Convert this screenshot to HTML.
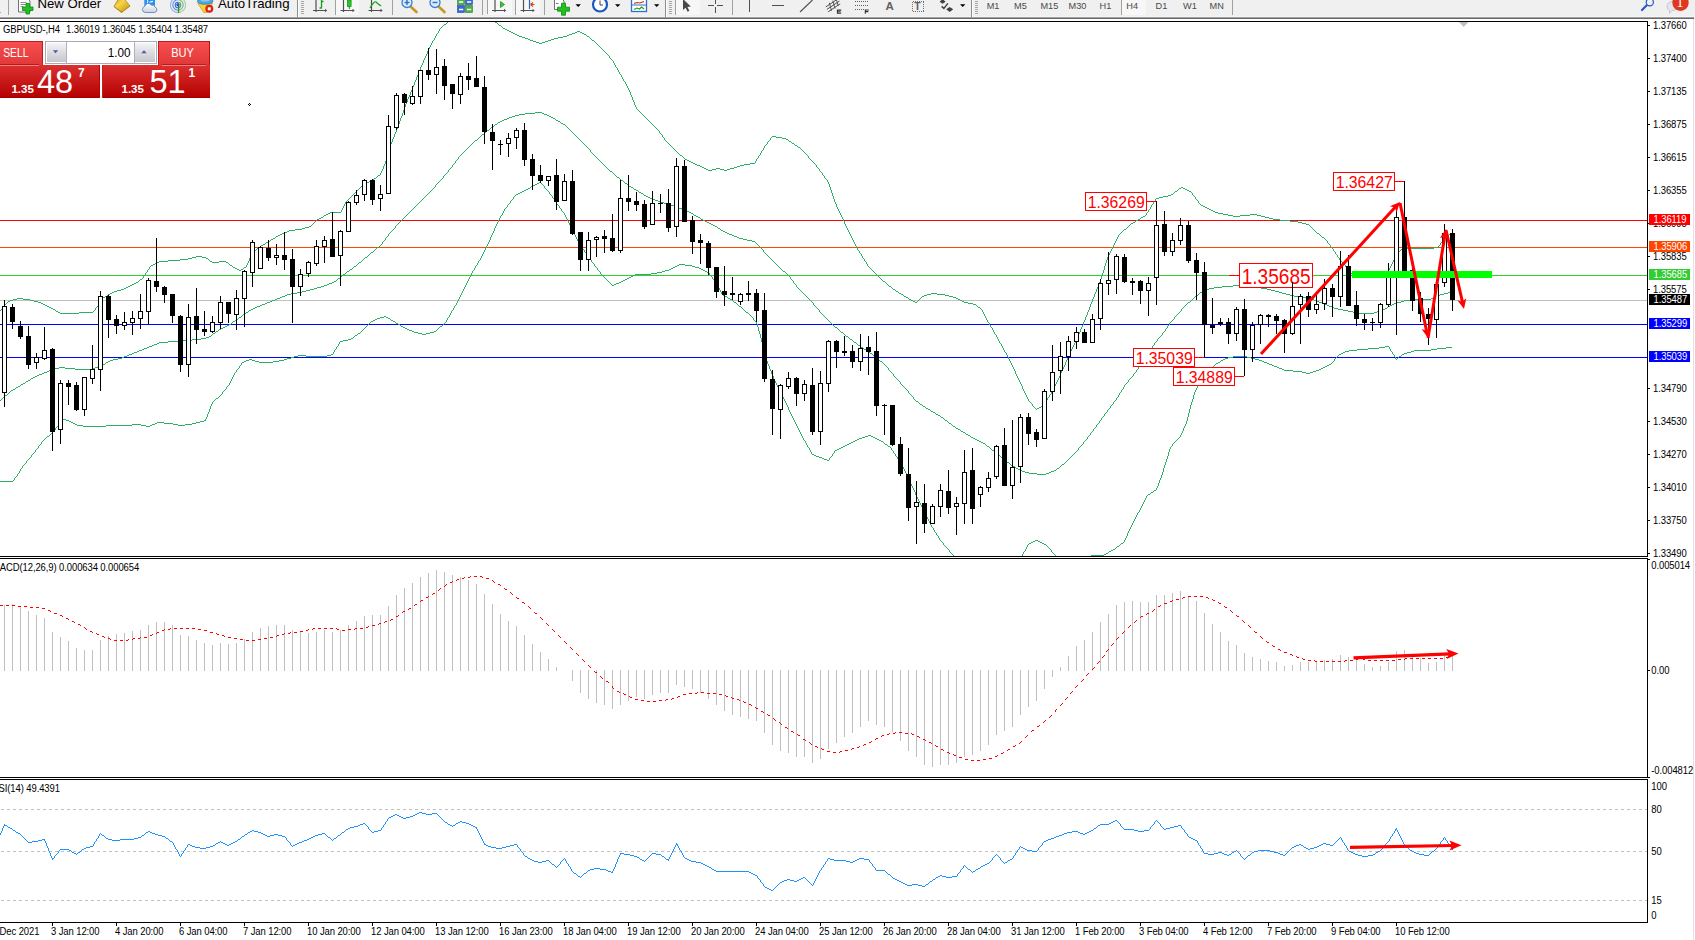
<!DOCTYPE html>
<html><head><meta charset="utf-8"><title>GBPUSD H4</title>
<style>html,body{margin:0;padding:0;background:#fff;}body{width:1695px;height:940px;overflow:hidden;font-family:"Liberation Sans",sans-serif;}svg{display:block}text{font-family:"Liberation Sans",sans-serif}.s{letter-spacing:-0.1px}</style></head><body>
<svg width="1695" height="940" viewBox="0 0 1695 940">
<rect width="1695" height="940" fill="#fff"/>
<g shape-rendering="crispEdges">
<rect x="0" y="220" width="1647" height="1" fill="#ff0000"/>
<rect x="0" y="247" width="1647" height="1" fill="#ff4500"/>
<rect x="0" y="275" width="1647" height="1" fill="#32cd32"/>
<rect x="0" y="300" width="1647" height="1" fill="#c0c0c0"/>
<rect x="0" y="324" width="1647" height="1" fill="#0000ff"/>
<rect x="0" y="357" width="1647" height="1" fill="#0000ff"/>
</g>
<defs><clipPath id="cm"><rect x="0" y="22" width="1647" height="534"/></clipPath></defs>
<path d="M448 21h1v1h-1zM494 21h1v1h-1zM447 22h1v1h-1zM495 22h2v1h-2zM446 23h1v1h-1zM497 23h1v1h-1zM444 24h2v1h-2zM498 24h1v1h-1zM443 25h1v1h-1zM499 25h2v1h-2zM442 26h1v1h-1zM501 26h1v1h-1zM441 27h1v1h-1zM502 27h1v1h-1zM440 28h1v1h-1zM503 28h2v1h-2zM439 29h1v2h-1zM505 29h2v1h-2zM507 30h2v1h-2zM438 31h1v2h-1zM509 31h2v1h-2zM577 31h3v1h-3zM511 32h2v1h-2zM575 32h2v1h-2zM580 32h2v1h-2zM437 33h1v1h-1zM513 33h2v1h-2zM572 33h3v1h-3zM582 33h2v1h-2zM436 34h1v2h-1zM515 34h2v1h-2zM569 34h3v1h-3zM584 34h2v1h-2zM517 35h2v1h-2zM567 35h2v1h-2zM586 35h1v1h-1zM435 36h1v2h-1zM519 36h3v1h-3zM563 36h4v1h-4zM587 36h2v1h-2zM522 37h3v1h-3zM558 37h5v1h-5zM589 37h1v1h-1zM434 38h1v2h-1zM525 38h3v1h-3zM554 38h4v1h-4zM590 38h1v1h-1zM528 39h2v1h-2zM551 39h3v1h-3zM591 39h1v1h-1zM433 40h1v1h-1zM530 40h3v1h-3zM548 40h3v1h-3zM592 40h2v1h-2zM432 41h1v2h-1zM533 41h3v1h-3zM545 41h3v1h-3zM594 41h1v1h-1zM536 42h3v1h-3zM542 42h3v1h-3zM595 42h1v1h-1zM431 43h1v2h-1zM539 43h3v1h-3zM596 43h1v1h-1zM597 44h1v1h-1zM430 45h1v2h-1zM598 45h1v1h-1zM599 46h1v1h-1zM429 47h1v2h-1zM600 47h1v1h-1zM601 48h1v1h-1zM428 49h1v2h-1zM602 49h1v1h-1zM603 50h1v1h-1zM427 51h1v3h-1zM604 51h1v1h-1zM605 52h1v1h-1zM606 53h1v1h-1zM426 54h1v2h-1zM607 54h1v1h-1zM608 55h1v1h-1zM425 56h1v2h-1zM609 56h1v2h-1zM424 58h1v2h-1zM610 58h1v1h-1zM611 59h1v1h-1zM423 60h1v3h-1zM612 60h1v1h-1zM613 61h1v2h-1zM422 63h1v2h-1zM614 63h1v2h-1zM421 65h1v2h-1zM615 65h1v2h-1zM420 67h1v3h-1zM616 67h1v1h-1zM617 68h1v2h-1zM419 70h1v2h-1zM618 70h1v2h-1zM418 72h1v3h-1zM619 72h1v2h-1zM620 74h1v1h-1zM417 75h1v2h-1zM621 75h1v2h-1zM416 77h1v3h-1zM622 77h1v2h-1zM623 79h1v2h-1zM415 80h1v2h-1zM624 81h1v1h-1zM414 82h1v3h-1zM625 82h1v2h-1zM626 84h1v2h-1zM413 85h1v2h-1zM627 86h1v2h-1zM412 87h1v3h-1zM628 88h1v2h-1zM411 90h1v2h-1zM629 90h1v2h-1zM410 92h1v3h-1zM630 92h1v3h-1zM409 95h1v2h-1zM631 95h1v2h-1zM408 97h1v2h-1zM632 97h1v3h-1zM407 99h1v3h-1zM633 100h1v2h-1zM406 102h1v2h-1zM634 102h1v3h-1zM405 104h1v3h-1zM635 105h1v2h-1zM404 107h1v3h-1zM636 107h1v2h-1zM637 109h1v1h-1zM403 110h1v3h-1zM638 110h1v1h-1zM639 111h1v1h-1zM535 112h7v1h-7zM640 112h1v1h-1zM402 113h1v3h-1zM525 113h10v1h-10zM542 113h2v1h-2zM641 113h1v1h-1zM519 114h6v1h-6zM544 114h3v1h-3zM642 114h1v1h-1zM515 115h4v1h-4zM547 115h2v1h-2zM643 115h1v1h-1zM401 116h1v2h-1zM512 116h3v1h-3zM549 116h2v1h-2zM644 116h1v1h-1zM509 117h3v1h-3zM551 117h2v1h-2zM645 117h1v1h-1zM400 118h1v3h-1zM507 118h2v1h-2zM553 118h2v1h-2zM646 118h1v1h-1zM504 119h3v1h-3zM555 119h1v1h-1zM647 119h1v1h-1zM502 120h2v1h-2zM556 120h2v1h-2zM648 120h1v1h-1zM399 121h1v3h-1zM500 121h2v1h-2zM558 121h2v1h-2zM649 121h1v1h-1zM498 122h2v1h-2zM560 122h1v1h-1zM650 122h1v1h-1zM497 123h1v1h-1zM561 123h2v1h-2zM651 123h1v1h-1zM398 124h1v3h-1zM495 124h2v1h-2zM563 124h2v1h-2zM652 124h1v1h-1zM494 125h1v1h-1zM565 125h1v1h-1zM653 125h1v1h-1zM493 126h1v1h-1zM566 126h1v1h-1zM654 126h1v1h-1zM397 127h1v2h-1zM491 127h2v1h-2zM567 127h1v1h-1zM655 127h1v1h-1zM490 128h1v1h-1zM568 128h1v1h-1zM656 128h1v1h-1zM396 129h1v3h-1zM489 129h1v1h-1zM569 129h1v1h-1zM657 129h1v1h-1zM487 130h2v1h-2zM570 130h1v1h-1zM658 130h1v1h-1zM486 131h1v1h-1zM571 131h1v1h-1zM659 131h1v2h-1zM395 132h1v2h-1zM485 132h1v1h-1zM572 132h1v1h-1zM484 133h1v1h-1zM573 133h1v1h-1zM660 133h1v1h-1zM394 134h1v3h-1zM482 134h2v1h-2zM574 134h1v1h-1zM661 134h1v1h-1zM481 135h1v1h-1zM575 135h1v1h-1zM662 135h1v2h-1zM480 136h1v1h-1zM576 136h1v1h-1zM772 136h4v1h-4zM393 137h1v2h-1zM479 137h1v1h-1zM577 137h1v1h-1zM663 137h1v1h-1zM771 137h1v1h-1zM776 137h6v1h-6zM478 138h1v1h-1zM578 138h1v1h-1zM664 138h1v2h-1zM770 138h1v2h-1zM782 138h4v1h-4zM392 139h1v3h-1zM477 139h1v1h-1zM579 139h1v1h-1zM786 139h2v1h-2zM475 140h2v1h-2zM580 140h1v1h-1zM665 140h1v1h-1zM769 140h1v1h-1zM788 140h1v1h-1zM474 141h1v1h-1zM581 141h1v1h-1zM666 141h1v1h-1zM768 141h1v1h-1zM789 141h2v1h-2zM391 142h1v2h-1zM473 142h1v1h-1zM582 142h1v1h-1zM667 142h1v1h-1zM767 142h1v2h-1zM791 142h1v1h-1zM472 143h1v1h-1zM583 143h1v1h-1zM668 143h1v1h-1zM792 143h2v1h-2zM390 144h1v3h-1zM471 144h1v1h-1zM584 144h1v1h-1zM669 144h1v1h-1zM766 144h1v1h-1zM794 144h1v1h-1zM470 145h1v1h-1zM585 145h1v1h-1zM670 145h1v1h-1zM765 145h1v1h-1zM795 145h2v1h-2zM469 146h1v1h-1zM586 146h1v1h-1zM671 146h1v1h-1zM764 146h1v2h-1zM797 146h1v1h-1zM389 147h1v4h-1zM468 147h1v1h-1zM587 147h1v1h-1zM672 147h1v1h-1zM798 147h2v1h-2zM467 148h1v1h-1zM588 148h1v1h-1zM673 148h1v1h-1zM763 148h1v2h-1zM800 148h1v1h-1zM466 149h1v1h-1zM589 149h1v1h-1zM674 149h1v1h-1zM801 149h1v1h-1zM465 150h1v1h-1zM590 150h1v2h-1zM675 150h1v1h-1zM762 150h1v1h-1zM802 150h1v1h-1zM388 151h1v3h-1zM464 151h1v1h-1zM676 151h1v1h-1zM761 151h1v2h-1zM803 151h1v1h-1zM463 152h1v1h-1zM591 152h1v1h-1zM677 152h1v1h-1zM804 152h1v1h-1zM462 153h1v1h-1zM592 153h1v1h-1zM678 153h1v1h-1zM760 153h1v2h-1zM805 153h1v1h-1zM387 154h1v3h-1zM461 154h1v1h-1zM593 154h1v1h-1zM679 154h1v1h-1zM806 154h1v1h-1zM460 155h1v1h-1zM594 155h1v1h-1zM680 155h2v1h-2zM759 155h1v1h-1zM807 155h1v1h-1zM459 156h1v1h-1zM595 156h1v1h-1zM682 156h1v1h-1zM758 156h1v2h-1zM808 156h1v2h-1zM386 157h1v4h-1zM458 157h1v2h-1zM596 157h1v1h-1zM683 157h1v1h-1zM597 158h1v1h-1zM684 158h1v1h-1zM757 158h1v1h-1zM809 158h1v1h-1zM457 159h1v1h-1zM598 159h1v1h-1zM685 159h2v1h-2zM756 159h1v2h-1zM810 159h1v1h-1zM456 160h1v1h-1zM599 160h1v1h-1zM687 160h2v1h-2zM811 160h1v1h-1zM385 161h1v3h-1zM455 161h1v2h-1zM600 161h1v1h-1zM689 161h2v1h-2zM755 161h1v2h-1zM812 161h1v1h-1zM601 162h1v1h-1zM691 162h2v1h-2zM813 162h1v1h-1zM454 163h1v1h-1zM602 163h1v1h-1zM693 163h2v1h-2zM750 163h5v1h-5zM814 163h1v1h-1zM384 164h1v2h-1zM453 164h1v1h-1zM603 164h1v1h-1zM695 164h2v1h-2zM744 164h6v1h-6zM815 164h1v1h-1zM452 165h1v2h-1zM604 165h1v1h-1zM697 165h3v1h-3zM740 165h4v1h-4zM816 165h1v2h-1zM383 166h1v3h-1zM605 166h1v1h-1zM700 166h2v1h-2zM737 166h3v1h-3zM451 167h1v1h-1zM606 167h1v1h-1zM702 167h2v1h-2zM734 167h3v1h-3zM817 167h1v1h-1zM450 168h1v1h-1zM607 168h1v1h-1zM704 168h2v1h-2zM716 168h4v1h-4zM730 168h4v1h-4zM818 168h1v1h-1zM382 169h1v2h-1zM449 169h1v1h-1zM608 169h1v1h-1zM706 169h2v1h-2zM712 169h4v1h-4zM720 169h4v1h-4zM727 169h3v1h-3zM819 169h1v2h-1zM448 170h1v2h-1zM609 170h1v1h-1zM708 170h4v1h-4zM724 170h3v1h-3zM381 171h1v2h-1zM610 171h2v1h-2zM820 171h1v1h-1zM447 172h1v1h-1zM612 172h1v1h-1zM821 172h1v1h-1zM380 173h1v2h-1zM446 173h1v1h-1zM613 173h1v1h-1zM822 173h1v2h-1zM445 174h1v1h-1zM614 174h1v1h-1zM378 175h2v1h-2zM444 175h1v1h-1zM615 175h1v1h-1zM823 175h1v1h-1zM377 176h1v1h-1zM443 176h1v2h-1zM616 176h1v1h-1zM824 176h1v2h-1zM376 177h1v1h-1zM617 177h2v1h-2zM374 178h2v1h-2zM442 178h1v1h-1zM619 178h1v1h-1zM825 178h1v1h-1zM373 179h1v1h-1zM441 179h1v1h-1zM620 179h1v1h-1zM826 179h1v1h-1zM371 180h2v1h-2zM440 180h1v1h-1zM621 180h2v1h-2zM827 180h1v2h-1zM369 181h2v1h-2zM439 181h1v1h-1zM623 181h1v1h-1zM367 182h2v1h-2zM438 182h1v1h-1zM539 182h2v1h-2zM624 182h1v1h-1zM828 182h1v2h-1zM365 183h2v1h-2zM437 183h1v1h-1zM537 183h2v1h-2zM541 183h1v1h-1zM625 183h2v1h-2zM363 184h2v1h-2zM436 184h1v1h-1zM535 184h2v1h-2zM542 184h1v1h-1zM627 184h1v1h-1zM829 184h1v3h-1zM362 185h1v1h-1zM435 185h1v2h-1zM533 185h2v1h-2zM543 185h1v1h-1zM628 185h1v1h-1zM361 186h1v1h-1zM531 186h2v1h-2zM544 186h1v2h-1zM629 186h2v1h-2zM360 187h1v1h-1zM434 187h1v1h-1zM530 187h1v1h-1zM631 187h2v1h-2zM830 187h1v3h-1zM1181 187h2v1h-2zM359 188h1v1h-1zM433 188h1v1h-1zM528 188h2v1h-2zM545 188h1v1h-1zM633 188h1v1h-1zM1179 188h2v1h-2zM1183 188h2v1h-2zM358 189h1v1h-1zM432 189h1v1h-1zM526 189h2v1h-2zM546 189h1v1h-1zM634 189h2v1h-2zM1178 189h1v1h-1zM1185 189h2v1h-2zM357 190h1v1h-1zM431 190h1v1h-1zM524 190h2v1h-2zM547 190h1v1h-1zM636 190h2v1h-2zM831 190h1v3h-1zM1177 190h1v1h-1zM1187 190h2v1h-2zM356 191h1v1h-1zM430 191h1v1h-1zM522 191h2v1h-2zM548 191h1v1h-1zM638 191h1v1h-1zM1175 191h2v1h-2zM1189 191h2v1h-2zM355 192h1v1h-1zM429 192h1v1h-1zM520 192h2v1h-2zM549 192h1v2h-1zM639 192h2v1h-2zM1174 192h1v1h-1zM1191 192h1v1h-1zM354 193h1v1h-1zM428 193h1v1h-1zM518 193h2v1h-2zM641 193h2v1h-2zM832 193h1v3h-1zM1173 193h1v1h-1zM1192 193h1v2h-1zM353 194h1v1h-1zM427 194h1v1h-1zM516 194h2v1h-2zM550 194h1v1h-1zM643 194h1v1h-1zM1171 194h2v1h-2zM352 195h1v1h-1zM426 195h1v1h-1zM515 195h1v1h-1zM551 195h1v1h-1zM644 195h2v1h-2zM1168 195h3v1h-3zM1193 195h1v1h-1zM351 196h1v1h-1zM425 196h1v1h-1zM514 196h1v1h-1zM552 196h1v2h-1zM646 196h2v1h-2zM833 196h1v3h-1zM1163 196h5v1h-5zM1194 196h1v1h-1zM350 197h1v1h-1zM424 197h1v1h-1zM513 197h1v2h-1zM648 197h2v1h-2zM1159 197h4v1h-4zM1195 197h1v2h-1zM349 198h1v1h-1zM423 198h1v1h-1zM553 198h1v1h-1zM650 198h2v1h-2zM1156 198h3v1h-3zM348 199h1v1h-1zM422 199h1v1h-1zM512 199h1v1h-1zM554 199h1v2h-1zM652 199h3v1h-3zM834 199h1v3h-1zM1155 199h1v2h-1zM1196 199h1v1h-1zM347 200h1v1h-1zM421 200h1v1h-1zM511 200h1v1h-1zM655 200h3v1h-3zM1197 200h1v1h-1zM346 201h1v1h-1zM420 201h1v1h-1zM510 201h1v2h-1zM555 201h1v1h-1zM658 201h3v1h-3zM1154 201h1v1h-1zM1198 201h1v2h-1zM345 202h1v2h-1zM419 202h1v1h-1zM556 202h1v2h-1zM661 202h3v1h-3zM835 202h1v2h-1zM1153 202h1v2h-1zM418 203h1v1h-1zM509 203h1v1h-1zM664 203h3v1h-3zM1199 203h1v1h-1zM344 204h1v2h-1zM417 204h1v1h-1zM508 204h1v1h-1zM557 204h1v1h-1zM667 204h4v1h-4zM836 204h1v3h-1zM1152 204h1v1h-1zM1200 204h1v1h-1zM416 205h1v1h-1zM507 205h1v2h-1zM558 205h1v1h-1zM671 205h3v1h-3zM1151 205h1v2h-1zM1201 205h2v1h-2zM343 206h1v2h-1zM415 206h1v1h-1zM559 206h1v2h-1zM674 206h3v1h-3zM1203 206h2v1h-2zM414 207h1v1h-1zM506 207h1v1h-1zM677 207h2v1h-2zM837 207h1v2h-1zM1150 207h1v2h-1zM1205 207h2v1h-2zM342 208h1v2h-1zM413 208h1v1h-1zM505 208h1v1h-1zM560 208h1v1h-1zM679 208h3v1h-3zM1207 208h2v1h-2zM412 209h1v1h-1zM504 209h1v2h-1zM561 209h1v2h-1zM682 209h3v1h-3zM838 209h1v2h-1zM1149 209h1v1h-1zM1209 209h2v1h-2zM341 210h1v2h-1zM411 210h1v1h-1zM685 210h2v1h-2zM1148 210h1v2h-1zM1211 210h2v1h-2zM410 211h1v1h-1zM503 211h1v2h-1zM562 211h1v1h-1zM687 211h2v1h-2zM839 211h1v2h-1zM1213 211h2v1h-2zM330 212h11v1h-11zM409 212h1v1h-1zM563 212h1v1h-1zM689 212h2v1h-2zM1147 212h1v1h-1zM1215 212h3v1h-3zM328 213h2v1h-2zM408 213h1v1h-1zM502 213h1v2h-1zM564 213h1v2h-1zM691 213h2v1h-2zM840 213h1v2h-1zM1146 213h1v2h-1zM1218 213h5v1h-5zM326 214h2v1h-2zM407 214h1v1h-1zM693 214h1v1h-1zM1223 214h5v1h-5zM1250 214h7v1h-7zM324 215h2v1h-2zM406 215h1v1h-1zM501 215h1v1h-1zM565 215h1v2h-1zM694 215h2v1h-2zM841 215h1v2h-1zM1145 215h1v1h-1zM1228 215h5v1h-5zM1240 215h10v1h-10zM1257 215h4v1h-4zM323 216h1v1h-1zM405 216h1v1h-1zM500 216h1v2h-1zM696 216h2v1h-2zM1143 216h2v1h-2zM1233 216h7v1h-7zM1261 216h4v1h-4zM321 217h2v1h-2zM404 217h1v1h-1zM566 217h1v2h-1zM698 217h2v1h-2zM842 217h1v2h-1zM1141 217h2v1h-2zM1265 217h4v1h-4zM319 218h2v1h-2zM403 218h1v1h-1zM499 218h1v2h-1zM700 218h1v1h-1zM1140 218h1v1h-1zM1269 218h4v1h-4zM317 219h2v1h-2zM402 219h1v1h-1zM567 219h1v2h-1zM701 219h2v1h-2zM843 219h1v2h-1zM1138 219h2v1h-2zM1273 219h7v1h-7zM316 220h1v1h-1zM401 220h1v1h-1zM498 220h1v2h-1zM703 220h2v1h-2zM1136 220h2v1h-2zM1280 220h10v1h-10zM315 221h1v1h-1zM400 221h1v1h-1zM568 221h1v2h-1zM705 221h2v1h-2zM844 221h1v3h-1zM1135 221h1v1h-1zM1290 221h8v1h-8zM314 222h1v1h-1zM399 222h1v1h-1zM497 222h1v2h-1zM707 222h2v1h-2zM1133 222h2v1h-2zM1298 222h4v1h-4zM313 223h1v1h-1zM398 223h1v1h-1zM569 223h1v2h-1zM709 223h2v1h-2zM1131 223h2v1h-2zM1302 223h4v1h-4zM312 224h1v1h-1zM397 224h1v1h-1zM496 224h1v2h-1zM711 224h2v1h-2zM845 224h1v2h-1zM1130 224h1v1h-1zM1306 224h3v1h-3zM311 225h1v1h-1zM396 225h1v1h-1zM570 225h1v2h-1zM713 225h2v1h-2zM1129 225h1v1h-1zM1309 225h1v1h-1zM309 226h2v1h-2zM395 226h1v2h-1zM495 226h1v2h-1zM715 226h2v1h-2zM846 226h1v2h-1zM1128 226h1v1h-1zM1310 226h1v1h-1zM305 227h4v1h-4zM571 227h1v2h-1zM717 227h1v1h-1zM1127 227h1v1h-1zM1311 227h1v1h-1zM302 228h3v1h-3zM394 228h1v1h-1zM494 228h1v3h-1zM718 228h2v1h-2zM847 228h1v2h-1zM1126 228h1v1h-1zM1312 228h1v1h-1zM295 229h7v1h-7zM393 229h1v1h-1zM572 229h1v2h-1zM720 229h1v1h-1zM1124 229h2v1h-2zM1313 229h1v1h-1zM289 230h6v1h-6zM392 230h1v1h-1zM721 230h2v1h-2zM848 230h1v2h-1zM1123 230h1v1h-1zM1314 230h1v1h-1zM287 231h2v1h-2zM391 231h1v1h-1zM493 231h1v2h-1zM573 231h1v2h-1zM723 231h2v1h-2zM1122 231h1v1h-1zM1315 231h1v1h-1zM284 232h3v1h-3zM390 232h1v1h-1zM725 232h2v1h-2zM849 232h1v2h-1zM1121 232h1v1h-1zM1316 232h1v1h-1zM1452 232h1v1h-1zM282 233h2v1h-2zM389 233h1v1h-1zM492 233h1v2h-1zM574 233h1v2h-1zM727 233h2v1h-2zM1120 233h1v1h-1zM1317 233h2v1h-2zM1450 233h2v1h-2zM280 234h2v1h-2zM388 234h1v2h-1zM729 234h3v1h-3zM850 234h1v2h-1zM1119 234h1v1h-1zM1319 234h1v1h-1zM1449 234h1v1h-1zM278 235h2v1h-2zM491 235h1v2h-1zM575 235h1v2h-1zM732 235h2v1h-2zM1118 235h1v2h-1zM1320 235h1v1h-1zM1447 235h2v1h-2zM276 236h2v1h-2zM387 236h1v1h-1zM734 236h3v1h-3zM851 236h1v2h-1zM1321 236h1v1h-1zM1446 236h1v1h-1zM275 237h1v1h-1zM386 237h1v1h-1zM490 237h1v3h-1zM576 237h1v2h-1zM737 237h2v1h-2zM1117 237h1v2h-1zM1322 237h2v1h-2zM1445 237h1v2h-1zM273 238h2v1h-2zM385 238h1v2h-1zM739 238h4v1h-4zM852 238h1v2h-1zM1324 238h1v1h-1zM271 239h2v1h-2zM577 239h1v2h-1zM743 239h4v1h-4zM1116 239h1v2h-1zM1325 239h1v1h-1zM1444 239h1v1h-1zM270 240h1v1h-1zM384 240h1v1h-1zM489 240h1v2h-1zM747 240h5v1h-5zM853 240h1v2h-1zM1326 240h1v1h-1zM1443 240h1v1h-1zM268 241h2v1h-2zM383 241h1v1h-1zM578 241h1v2h-1zM752 241h3v1h-3zM1115 241h1v2h-1zM1327 241h1v2h-1zM1442 241h1v1h-1zM266 242h2v1h-2zM382 242h1v2h-1zM488 242h1v2h-1zM755 242h1v1h-1zM854 242h1v2h-1zM1441 242h1v1h-1zM265 243h1v1h-1zM579 243h1v2h-1zM756 243h1v1h-1zM1114 243h1v2h-1zM1328 243h1v1h-1zM1440 243h1v2h-1zM263 244h2v1h-2zM381 244h1v1h-1zM487 244h1v2h-1zM757 244h1v1h-1zM855 244h1v2h-1zM1329 244h1v1h-1zM261 245h2v1h-2zM380 245h1v1h-1zM580 245h1v1h-1zM758 245h1v1h-1zM1113 245h1v2h-1zM1330 245h1v2h-1zM1439 245h1v1h-1zM260 246h1v1h-1zM379 246h1v1h-1zM486 246h1v2h-1zM581 246h1v2h-1zM759 246h1v1h-1zM856 246h1v2h-1zM1438 246h1v1h-1zM258 247h2v1h-2zM377 247h2v1h-2zM760 247h1v1h-1zM1112 247h1v2h-1zM1331 247h1v1h-1zM1434 247h4v1h-4zM257 248h1v1h-1zM376 248h1v1h-1zM485 248h1v2h-1zM582 248h1v1h-1zM761 248h1v1h-1zM857 248h1v2h-1zM1332 248h1v1h-1zM1406 248h28v1h-28zM256 249h1v1h-1zM375 249h1v1h-1zM583 249h1v1h-1zM762 249h1v1h-1zM1111 249h1v2h-1zM1333 249h1v2h-1zM1401 249h5v1h-5zM254 250h2v1h-2zM374 250h1v1h-1zM484 250h1v2h-1zM584 250h1v2h-1zM763 250h1v2h-1zM858 250h1v1h-1zM1400 250h1v1h-1zM253 251h1v1h-1zM373 251h1v1h-1zM859 251h1v2h-1zM1110 251h1v2h-1zM1334 251h1v1h-1zM1399 251h1v1h-1zM252 252h1v2h-1zM371 252h2v1h-2zM483 252h1v2h-1zM585 252h1v1h-1zM764 252h1v1h-1zM1335 252h1v2h-1zM1398 252h1v2h-1zM370 253h1v1h-1zM586 253h1v2h-1zM765 253h1v1h-1zM860 253h1v1h-1zM1109 253h1v2h-1zM251 254h1v2h-1zM369 254h1v1h-1zM482 254h1v2h-1zM766 254h1v1h-1zM861 254h1v2h-1zM1336 254h1v1h-1zM1397 254h1v1h-1zM368 255h1v1h-1zM587 255h1v1h-1zM767 255h1v1h-1zM1108 255h1v2h-1zM1337 255h1v2h-1zM1396 255h1v1h-1zM196 256h6v1h-6zM250 256h1v2h-1zM367 256h1v1h-1zM481 256h1v2h-1zM588 256h1v2h-1zM768 256h1v1h-1zM862 256h1v2h-1zM1395 256h1v2h-1zM192 257h4v1h-4zM202 257h4v1h-4zM365 257h2v1h-2zM769 257h1v1h-1zM1107 257h1v3h-1zM1338 257h1v1h-1zM188 258h4v1h-4zM206 258h2v1h-2zM249 258h1v3h-1zM364 258h1v1h-1zM480 258h1v2h-1zM589 258h1v1h-1zM770 258h1v1h-1zM863 258h1v1h-1zM1339 258h1v2h-1zM1394 258h1v2h-1zM180 259h8v1h-8zM208 259h1v1h-1zM363 259h1v1h-1zM590 259h1v1h-1zM771 259h1v1h-1zM864 259h1v2h-1zM168 260h12v1h-12zM209 260h1v1h-1zM362 260h1v1h-1zM479 260h1v1h-1zM591 260h1v2h-1zM772 260h1v1h-1zM1106 260h1v3h-1zM1340 260h1v1h-1zM1393 260h1v2h-1zM159 261h9v1h-9zM210 261h2v1h-2zM219 261h7v1h-7zM248 261h1v2h-1zM361 261h1v1h-1zM478 261h1v2h-1zM773 261h1v1h-1zM865 261h1v1h-1zM1341 261h1v1h-1zM157 262h2v1h-2zM212 262h7v1h-7zM226 262h2v1h-2zM359 262h2v1h-2zM592 262h1v1h-1zM774 262h1v1h-1zM866 262h1v2h-1zM1342 262h1v1h-1zM1392 262h1v2h-1zM155 263h2v1h-2zM228 263h1v1h-1zM247 263h1v2h-1zM358 263h1v1h-1zM477 263h1v2h-1zM593 263h1v1h-1zM775 263h1v1h-1zM1105 263h1v3h-1zM1343 263h1v1h-1zM153 264h2v1h-2zM229 264h1v1h-1zM357 264h1v1h-1zM594 264h1v2h-1zM679 264h6v1h-6zM776 264h1v1h-1zM867 264h1v2h-1zM1344 264h1v1h-1zM1391 264h1v2h-1zM151 265h2v1h-2zM230 265h2v1h-2zM246 265h1v2h-1zM356 265h1v1h-1zM476 265h1v1h-1zM677 265h2v1h-2zM685 265h7v1h-7zM777 265h1v1h-1zM1345 265h1v2h-1zM150 266h1v1h-1zM232 266h1v1h-1zM354 266h2v1h-2zM475 266h1v2h-1zM595 266h1v1h-1zM675 266h2v1h-2zM692 266h3v1h-3zM778 266h1v1h-1zM868 266h1v1h-1zM1104 266h1v4h-1zM1390 266h1v2h-1zM149 267h1v2h-1zM233 267h2v1h-2zM244 267h2v1h-2zM353 267h1v1h-1zM596 267h1v1h-1zM673 267h2v1h-2zM695 267h4v1h-4zM779 267h1v1h-1zM869 267h1v1h-1zM1346 267h1v2h-1zM235 268h2v1h-2zM243 268h1v1h-1zM352 268h1v1h-1zM474 268h1v2h-1zM597 268h1v2h-1zM671 268h2v1h-2zM699 268h2v1h-2zM780 268h1v1h-1zM870 268h1v1h-1zM1389 268h1v2h-1zM148 269h1v1h-1zM237 269h2v1h-2zM241 269h2v1h-2zM350 269h2v1h-2zM669 269h2v1h-2zM701 269h2v1h-2zM781 269h1v1h-1zM871 269h1v1h-1zM1347 269h1v2h-1zM147 270h1v2h-1zM239 270h2v1h-2zM349 270h1v1h-1zM473 270h1v1h-1zM598 270h1v1h-1zM665 270h4v1h-4zM703 270h2v1h-2zM782 270h1v1h-1zM872 270h1v1h-1zM1103 270h1v3h-1zM1388 270h1v1h-1zM347 271h2v1h-2zM472 271h1v2h-1zM599 271h1v1h-1zM662 271h3v1h-3zM705 271h2v1h-2zM783 271h2v1h-2zM873 271h1v1h-1zM1348 271h1v2h-1zM1386 271h2v1h-2zM146 272h1v1h-1zM346 272h1v1h-1zM600 272h1v2h-1zM657 272h5v1h-5zM707 272h2v1h-2zM785 272h1v1h-1zM874 272h1v1h-1zM1349 272h1v1h-1zM1384 272h2v1h-2zM145 273h1v2h-1zM345 273h1v1h-1zM471 273h1v2h-1zM651 273h6v1h-6zM709 273h1v2h-1zM786 273h1v1h-1zM875 273h1v1h-1zM1102 273h1v3h-1zM1350 273h2v1h-2zM1383 273h1v1h-1zM343 274h2v1h-2zM601 274h1v1h-1zM635 274h16v1h-16zM787 274h1v1h-1zM876 274h1v1h-1zM1352 274h3v1h-3zM1381 274h2v1h-2zM144 275h1v1h-1zM342 275h1v1h-1zM470 275h1v2h-1zM602 275h1v1h-1zM633 275h2v1h-2zM710 275h1v1h-1zM788 275h1v1h-1zM877 275h1v1h-1zM1355 275h26v1h-26zM143 276h1v2h-1zM341 276h1v1h-1zM603 276h1v1h-1zM631 276h2v1h-2zM711 276h1v1h-1zM789 276h1v1h-1zM878 276h1v1h-1zM1101 276h1v3h-1zM340 277h1v1h-1zM469 277h1v2h-1zM604 277h1v1h-1zM629 277h2v1h-2zM712 277h1v2h-1zM790 277h1v2h-1zM879 277h1v1h-1zM142 278h1v1h-1zM338 278h2v1h-2zM605 278h1v1h-1zM627 278h2v1h-2zM880 278h1v1h-1zM140 279h2v1h-2zM337 279h1v1h-1zM468 279h1v2h-1zM606 279h1v1h-1zM625 279h2v1h-2zM713 279h1v1h-1zM791 279h1v1h-1zM881 279h1v1h-1zM1100 279h1v3h-1zM139 280h1v1h-1zM336 280h1v1h-1zM607 280h1v1h-1zM623 280h2v1h-2zM714 280h1v2h-1zM792 280h1v1h-1zM882 280h1v1h-1zM138 281h1v1h-1zM334 281h2v1h-2zM467 281h1v2h-1zM608 281h1v1h-1zM621 281h2v1h-2zM793 281h1v2h-1zM883 281h2v1h-2zM136 282h2v1h-2zM332 282h2v1h-2zM609 282h1v1h-1zM619 282h2v1h-2zM715 282h1v1h-1zM885 282h1v1h-1zM1099 282h1v2h-1zM134 283h2v1h-2zM329 283h3v1h-3zM466 283h1v2h-1zM610 283h1v1h-1zM616 283h3v1h-3zM716 283h1v2h-1zM794 283h1v1h-1zM886 283h1v1h-1zM132 284h2v1h-2zM327 284h2v1h-2zM611 284h1v1h-1zM614 284h2v1h-2zM795 284h1v1h-1zM887 284h1v1h-1zM1098 284h1v3h-1zM130 285h2v1h-2zM324 285h3v1h-3zM465 285h1v2h-1zM612 285h2v1h-2zM717 285h1v2h-1zM796 285h1v2h-1zM888 285h1v1h-1zM1233 285h12v1h-12zM128 286h2v1h-2zM321 286h3v1h-3zM889 286h2v1h-2zM1222 286h11v1h-11zM1245 286h8v1h-8zM126 287h2v1h-2zM317 287h4v1h-4zM464 287h1v2h-1zM718 287h1v1h-1zM797 287h1v1h-1zM891 287h1v1h-1zM1097 287h1v2h-1zM1214 287h8v1h-8zM1253 287h8v1h-8zM124 288h2v1h-2zM314 288h3v1h-3zM719 288h1v2h-1zM798 288h1v1h-1zM892 288h1v1h-1zM1209 288h5v1h-5zM1261 288h6v1h-6zM121 289h3v1h-3zM310 289h4v1h-4zM463 289h1v2h-1zM799 289h1v1h-1zM893 289h2v1h-2zM1096 289h1v3h-1zM1207 289h2v1h-2zM1267 289h4v1h-4zM117 290h4v1h-4zM306 290h4v1h-4zM720 290h1v2h-1zM800 290h1v1h-1zM895 290h1v1h-1zM1204 290h3v1h-3zM1271 290h4v1h-4zM114 291h3v1h-3zM302 291h4v1h-4zM462 291h1v2h-1zM801 291h1v1h-1zM896 291h2v1h-2zM1202 291h2v1h-2zM1275 291h4v1h-4zM112 292h2v1h-2zM297 292h5v1h-5zM721 292h1v2h-1zM802 292h1v1h-1zM898 292h1v1h-1zM1095 292h1v2h-1zM1200 292h2v1h-2zM1279 292h3v1h-3zM1448 292h3v1h-3zM110 293h2v1h-2zM291 293h6v1h-6zM461 293h1v2h-1zM803 293h1v1h-1zM899 293h2v1h-2zM931 293h6v1h-6zM1199 293h1v1h-1zM1282 293h4v1h-4zM1444 293h4v1h-4zM108 294h2v1h-2zM287 294h4v1h-4zM722 294h1v1h-1zM804 294h1v1h-1zM901 294h2v1h-2zM927 294h4v1h-4zM937 294h8v1h-8zM1094 294h1v3h-1zM1198 294h1v1h-1zM1286 294h4v1h-4zM1440 294h4v1h-4zM107 295h1v1h-1zM285 295h2v1h-2zM460 295h1v2h-1zM723 295h2v1h-2zM805 295h1v1h-1zM903 295h1v1h-1zM924 295h3v1h-3zM945 295h4v1h-4zM1196 295h2v1h-2zM1290 295h4v1h-4zM1437 295h3v1h-3zM105 296h2v1h-2zM282 296h3v1h-3zM725 296h2v1h-2zM806 296h1v1h-1zM904 296h2v1h-2zM922 296h2v1h-2zM949 296h4v1h-4zM1195 296h1v1h-1zM1294 296h5v1h-5zM1435 296h2v1h-2zM103 297h2v1h-2zM280 297h2v1h-2zM459 297h1v2h-1zM727 297h1v1h-1zM807 297h1v1h-1zM906 297h2v1h-2zM921 297h1v1h-1zM953 297h3v1h-3zM1093 297h1v2h-1zM1194 297h1v1h-1zM1299 297h8v1h-8zM1433 297h2v1h-2zM17 298h6v1h-6zM102 298h1v1h-1zM277 298h3v1h-3zM728 298h2v1h-2zM808 298h1v1h-1zM908 298h1v1h-1zM920 298h1v1h-1zM956 298h2v1h-2zM1193 298h1v1h-1zM1307 298h5v1h-5zM1431 298h2v1h-2zM13 299h4v1h-4zM23 299h7v1h-7zM101 299h1v2h-1zM275 299h2v1h-2zM458 299h1v2h-1zM730 299h2v1h-2zM809 299h1v1h-1zM909 299h2v1h-2zM919 299h1v1h-1zM958 299h2v1h-2zM1092 299h1v3h-1zM1192 299h1v1h-1zM1312 299h2v1h-2zM1410 299h21v1h-21zM10 300h3v1h-3zM30 300h4v1h-4zM272 300h3v1h-3zM732 300h1v1h-1zM810 300h1v1h-1zM911 300h2v1h-2zM918 300h1v1h-1zM960 300h2v1h-2zM1191 300h1v1h-1zM1314 300h3v1h-3zM1404 300h6v1h-6zM8 301h2v1h-2zM34 301h4v1h-4zM100 301h1v2h-1zM270 301h2v1h-2zM457 301h1v2h-1zM733 301h1v1h-1zM811 301h1v1h-1zM913 301h2v1h-2zM917 301h1v1h-1zM962 301h2v1h-2zM1190 301h1v1h-1zM1317 301h2v1h-2zM1401 301h3v1h-3zM7 302h1v1h-1zM38 302h3v1h-3zM267 302h3v1h-3zM734 302h2v1h-2zM812 302h1v1h-1zM915 302h2v1h-2zM964 302h4v1h-4zM1091 302h1v2h-1zM1188 302h2v1h-2zM1319 302h3v1h-3zM1397 302h4v1h-4zM6 303h1v1h-1zM41 303h2v1h-2zM99 303h1v2h-1zM265 303h2v1h-2zM456 303h1v2h-1zM736 303h1v1h-1zM813 303h1v2h-1zM968 303h5v1h-5zM1187 303h1v1h-1zM1322 303h2v1h-2zM1394 303h3v1h-3zM5 304h1v1h-1zM43 304h2v1h-2zM262 304h3v1h-3zM737 304h1v1h-1zM973 304h3v1h-3zM1090 304h1v3h-1zM1186 304h1v1h-1zM1324 304h3v1h-3zM1392 304h2v1h-2zM4 305h1v2h-1zM45 305h2v1h-2zM98 305h1v1h-1zM260 305h2v1h-2zM455 305h1v1h-1zM738 305h1v1h-1zM814 305h1v1h-1zM976 305h1v1h-1zM1185 305h1v1h-1zM1327 305h2v1h-2zM1390 305h2v1h-2zM47 306h2v1h-2zM97 306h1v1h-1zM257 306h3v1h-3zM454 306h1v2h-1zM739 306h2v1h-2zM815 306h1v1h-1zM977 306h1v1h-1zM1184 306h1v1h-1zM1329 306h3v1h-3zM1388 306h2v1h-2zM3 307h1v1h-1zM49 307h2v1h-2zM96 307h1v1h-1zM255 307h2v1h-2zM741 307h1v1h-1zM816 307h1v1h-1zM978 307h2v1h-2zM1089 307h1v3h-1zM1183 307h1v1h-1zM1332 307h2v1h-2zM1387 307h1v1h-1zM2 308h1v1h-1zM51 308h2v1h-2zM95 308h1v2h-1zM253 308h2v1h-2zM453 308h1v2h-1zM742 308h1v1h-1zM817 308h1v1h-1zM980 308h1v1h-1zM1182 308h1v1h-1zM1334 308h4v1h-4zM1385 308h2v1h-2zM1 309h1v1h-1zM53 309h2v1h-2zM251 309h2v1h-2zM743 309h1v1h-1zM818 309h1v1h-1zM981 309h1v1h-1zM1181 309h1v2h-1zM1338 309h5v1h-5zM1383 309h2v1h-2zM0 310h1v1h-1zM55 310h1v1h-1zM94 310h1v1h-1zM249 310h2v1h-2zM452 310h1v1h-1zM744 310h1v1h-1zM819 310h1v2h-1zM982 310h1v2h-1zM1088 310h1v2h-1zM1343 310h5v1h-5zM1381 310h2v1h-2zM56 311h2v1h-2zM93 311h1v1h-1zM248 311h1v1h-1zM451 311h1v2h-1zM745 311h1v1h-1zM1180 311h1v1h-1zM1348 311h5v1h-5zM1377 311h4v1h-4zM58 312h2v1h-2zM79 312h14v1h-14zM246 312h2v1h-2zM746 312h2v1h-2zM820 312h1v1h-1zM983 312h1v2h-1zM1087 312h1v3h-1zM1179 312h1v1h-1zM1353 312h5v1h-5zM1374 312h3v1h-3zM60 313h19v1h-19zM245 313h1v1h-1zM450 313h1v2h-1zM748 313h1v1h-1zM821 313h1v1h-1zM1178 313h1v1h-1zM1358 313h16v1h-16zM243 314h2v1h-2zM749 314h1v1h-1zM822 314h1v1h-1zM984 314h1v2h-1zM1177 314h1v1h-1zM242 315h1v1h-1zM449 315h1v2h-1zM750 315h1v1h-1zM823 315h1v1h-1zM1086 315h1v2h-1zM1176 315h1v1h-1zM241 316h1v1h-1zM384 316h2v1h-2zM751 316h1v1h-1zM824 316h1v1h-1zM985 316h1v2h-1zM1175 316h1v1h-1zM239 317h2v1h-2zM380 317h4v1h-4zM386 317h2v1h-2zM448 317h1v1h-1zM752 317h1v1h-1zM825 317h1v1h-1zM1085 317h1v3h-1zM1174 317h1v2h-1zM238 318h1v1h-1zM377 318h3v1h-3zM388 318h2v1h-2zM447 318h1v2h-1zM753 318h1v2h-1zM826 318h1v1h-1zM986 318h1v2h-1zM236 319h2v1h-2zM375 319h2v1h-2zM390 319h1v1h-1zM827 319h1v1h-1zM1173 319h1v1h-1zM235 320h1v1h-1zM373 320h2v1h-2zM391 320h2v1h-2zM446 320h1v2h-1zM754 320h1v1h-1zM828 320h1v1h-1zM987 320h1v2h-1zM1084 320h1v2h-1zM1172 320h1v1h-1zM233 321h2v1h-2zM371 321h2v1h-2zM393 321h2v1h-2zM755 321h1v1h-1zM829 321h1v1h-1zM1171 321h1v1h-1zM232 322h1v1h-1zM370 322h1v1h-1zM395 322h1v1h-1zM445 322h1v1h-1zM756 322h1v2h-1zM830 322h1v1h-1zM988 322h1v1h-1zM1083 322h1v3h-1zM1170 322h1v1h-1zM231 323h1v1h-1zM369 323h1v1h-1zM396 323h2v1h-2zM444 323h1v1h-1zM831 323h1v1h-1zM989 323h1v2h-1zM1169 323h1v2h-1zM229 324h2v1h-2zM368 324h1v1h-1zM398 324h2v1h-2zM443 324h1v1h-1zM757 324h1v3h-1zM832 324h1v1h-1zM227 325h2v1h-2zM367 325h1v1h-1zM400 325h1v1h-1zM442 325h1v1h-1zM833 325h1v1h-1zM990 325h1v2h-1zM1082 325h1v2h-1zM1168 325h1v1h-1zM225 326h2v1h-2zM366 326h1v1h-1zM401 326h2v1h-2zM440 326h2v1h-2zM834 326h1v1h-1zM1167 326h1v2h-1zM223 327h2v1h-2zM365 327h1v1h-1zM403 327h2v1h-2zM439 327h1v1h-1zM758 327h1v4h-1zM835 327h2v1h-2zM991 327h1v1h-1zM1081 327h1v2h-1zM221 328h2v1h-2zM364 328h1v1h-1zM405 328h2v1h-2zM438 328h1v1h-1zM837 328h1v1h-1zM992 328h1v2h-1zM1166 328h1v1h-1zM219 329h2v1h-2zM363 329h1v1h-1zM407 329h2v1h-2zM437 329h1v1h-1zM838 329h1v1h-1zM1080 329h1v3h-1zM1165 329h1v2h-1zM218 330h1v1h-1zM362 330h1v1h-1zM409 330h3v1h-3zM436 330h1v1h-1zM839 330h1v1h-1zM993 330h1v2h-1zM216 331h2v1h-2zM361 331h1v1h-1zM412 331h2v1h-2zM434 331h2v1h-2zM759 331h1v3h-1zM840 331h1v1h-1zM1164 331h1v1h-1zM215 332h1v1h-1zM360 332h1v1h-1zM414 332h4v1h-4zM430 332h4v1h-4zM841 332h2v1h-2zM994 332h1v2h-1zM1079 332h1v2h-1zM1163 332h1v1h-1zM213 333h2v1h-2zM358 333h2v1h-2zM418 333h4v1h-4zM426 333h4v1h-4zM843 333h1v1h-1zM1162 333h1v2h-1zM212 334h1v1h-1zM357 334h1v1h-1zM422 334h4v1h-4zM760 334h1v4h-1zM844 334h1v1h-1zM995 334h1v1h-1zM1078 334h1v2h-1zM211 335h1v1h-1zM355 335h2v1h-2zM845 335h1v1h-1zM996 335h1v2h-1zM1161 335h1v1h-1zM209 336h2v1h-2zM354 336h1v1h-1zM846 336h2v1h-2zM1077 336h1v2h-1zM1160 336h1v1h-1zM206 337h3v1h-3zM353 337h1v1h-1zM848 337h1v1h-1zM997 337h1v2h-1zM1159 337h1v1h-1zM201 338h5v1h-5zM351 338h2v1h-2zM761 338h1v4h-1zM849 338h1v1h-1zM1076 338h1v2h-1zM1158 338h1v1h-1zM192 339h9v1h-9zM348 339h3v1h-3zM850 339h2v1h-2zM998 339h1v2h-1zM1157 339h1v2h-1zM180 340h12v1h-12zM343 340h5v1h-5zM852 340h1v1h-1zM1075 340h1v3h-1zM168 341h12v1h-12zM340 341h3v1h-3zM853 341h1v1h-1zM999 341h1v2h-1zM1156 341h1v1h-1zM159 342h9v1h-9zM339 342h1v2h-1zM762 342h1v4h-1zM854 342h2v1h-2zM1155 342h1v1h-1zM157 343h2v1h-2zM856 343h1v1h-1zM1000 343h1v1h-1zM1074 343h1v2h-1zM1154 343h1v2h-1zM154 344h3v1h-3zM338 344h1v2h-1zM857 344h1v1h-1zM1001 344h1v2h-1zM152 345h2v1h-2zM858 345h2v1h-2zM1073 345h1v2h-1zM1153 345h1v1h-1zM149 346h3v1h-3zM337 346h1v1h-1zM763 346h1v5h-1zM860 346h1v1h-1zM1002 346h1v2h-1zM1152 346h1v2h-1zM1385 346h4v1h-4zM147 347h2v1h-2zM336 347h1v2h-1zM861 347h2v1h-2zM1072 347h1v2h-1zM1379 347h6v1h-6zM1389 347h1v2h-1zM1446 347h6v1h-6zM144 348h3v1h-3zM863 348h1v1h-1zM1003 348h1v2h-1zM1151 348h1v1h-1zM1368 348h11v1h-11zM1437 348h9v1h-9zM142 349h2v1h-2zM335 349h1v1h-1zM864 349h2v1h-2zM1071 349h1v2h-1zM1150 349h1v2h-1zM1357 349h11v1h-11zM1390 349h1v2h-1zM1431 349h6v1h-6zM139 350h3v1h-3zM334 350h1v2h-1zM866 350h1v1h-1zM1004 350h1v2h-1zM1349 350h8v1h-8zM1414 350h17v1h-17zM137 351h2v1h-2zM764 351h1v4h-1zM867 351h2v1h-2zM1070 351h1v3h-1zM1149 351h1v1h-1zM1345 351h4v1h-4zM1391 351h1v1h-1zM1411 351h3v1h-3zM134 352h3v1h-3zM333 352h1v2h-1zM869 352h1v1h-1zM1005 352h1v1h-1zM1148 352h1v2h-1zM1343 352h2v1h-2zM1392 352h1v2h-1zM1407 352h4v1h-4zM132 353h2v1h-2zM870 353h2v1h-2zM1006 353h1v2h-1zM1341 353h2v1h-2zM1404 353h3v1h-3zM129 354h3v1h-3zM331 354h2v1h-2zM872 354h1v1h-1zM1069 354h1v2h-1zM1147 354h1v1h-1zM1339 354h2v1h-2zM1393 354h1v1h-1zM1402 354h2v1h-2zM127 355h2v1h-2zM298 355h8v1h-8zM327 355h4v1h-4zM765 355h1v4h-1zM873 355h2v1h-2zM1007 355h1v2h-1zM1146 355h1v2h-1zM1338 355h1v1h-1zM1394 355h1v2h-1zM1401 355h1v1h-1zM124 356h3v1h-3zM294 356h4v1h-4zM306 356h21v1h-21zM875 356h1v1h-1zM1068 356h1v2h-1zM1233 356h14v1h-14zM1337 356h1v1h-1zM1399 356h2v1h-2zM122 357h2v1h-2zM291 357h3v1h-3zM876 357h1v1h-1zM1008 357h1v2h-1zM1145 357h1v1h-1zM1228 357h5v1h-5zM1247 357h4v1h-4zM1336 357h1v1h-1zM1395 357h1v2h-1zM1398 357h1v1h-1zM118 358h4v1h-4zM287 358h4v1h-4zM877 358h1v1h-1zM1067 358h1v2h-1zM1144 358h1v2h-1zM1225 358h3v1h-3zM1251 358h4v1h-4zM1335 358h1v1h-1zM1397 358h1v1h-1zM113 359h5v1h-5zM249 359h3v1h-3zM284 359h3v1h-3zM766 359h1v2h-1zM878 359h1v1h-1zM1009 359h1v2h-1zM1223 359h2v1h-2zM1255 359h4v1h-4zM1334 359h1v2h-1zM1396 359h1v1h-1zM110 360h3v1h-3zM246 360h3v1h-3zM252 360h3v1h-3zM279 360h5v1h-5zM879 360h1v1h-1zM1066 360h1v2h-1zM1143 360h1v1h-1zM1221 360h2v1h-2zM1259 360h3v1h-3zM108 361h2v1h-2zM244 361h2v1h-2zM255 361h4v1h-4zM273 361h6v1h-6zM767 361h1v3h-1zM880 361h2v1h-2zM1010 361h1v2h-1zM1142 361h1v2h-1zM1220 361h1v1h-1zM1262 361h2v1h-2zM1333 361h1v1h-1zM106 362h2v1h-2zM242 362h2v1h-2zM259 362h14v1h-14zM882 362h1v1h-1zM1065 362h1v3h-1zM1218 362h2v1h-2zM1264 362h3v1h-3zM1332 362h1v1h-1zM105 363h1v1h-1zM241 363h1v2h-1zM883 363h1v1h-1zM1011 363h1v2h-1zM1141 363h1v1h-1zM1216 363h2v1h-2zM1267 363h2v1h-2zM1331 363h1v1h-1zM103 364h2v1h-2zM768 364h1v2h-1zM884 364h1v1h-1zM1140 364h1v2h-1zM1215 364h1v1h-1zM1269 364h3v1h-3zM1329 364h2v1h-2zM101 365h2v1h-2zM240 365h1v1h-1zM885 365h1v1h-1zM1012 365h1v2h-1zM1064 365h1v2h-1zM1214 365h1v1h-1zM1272 365h2v1h-2zM1327 365h2v1h-2zM99 366h2v1h-2zM239 366h1v2h-1zM769 366h1v3h-1zM886 366h1v1h-1zM1139 366h1v1h-1zM1213 366h1v1h-1zM1274 366h3v1h-3zM1325 366h2v1h-2zM59 367h6v1h-6zM95 367h4v1h-4zM887 367h1v1h-1zM1013 367h1v2h-1zM1063 367h1v2h-1zM1138 367h1v2h-1zM1212 367h1v1h-1zM1277 367h2v1h-2zM1323 367h2v1h-2zM55 368h4v1h-4zM65 368h10v1h-10zM92 368h3v1h-3zM238 368h1v1h-1zM888 368h1v2h-1zM1211 368h1v1h-1zM1279 368h3v1h-3zM1321 368h2v1h-2zM52 369h3v1h-3zM75 369h17v1h-17zM237 369h1v1h-1zM770 369h1v2h-1zM1014 369h1v2h-1zM1062 369h1v2h-1zM1137 369h1v1h-1zM1210 369h1v2h-1zM1282 369h2v1h-2zM1319 369h2v1h-2zM49 370h3v1h-3zM236 370h1v2h-1zM889 370h1v1h-1zM1136 370h1v2h-1zM1284 370h9v1h-9zM1316 370h3v1h-3zM47 371h2v1h-2zM771 371h1v3h-1zM890 371h1v1h-1zM1015 371h1v3h-1zM1061 371h1v2h-1zM1209 371h1v1h-1zM1293 371h9v1h-9zM1313 371h3v1h-3zM44 372h3v1h-3zM235 372h1v1h-1zM891 372h1v1h-1zM1135 372h1v1h-1zM1208 372h1v1h-1zM1302 372h4v1h-4zM1310 372h3v1h-3zM42 373h2v1h-2zM234 373h1v2h-1zM892 373h1v1h-1zM1060 373h1v3h-1zM1134 373h1v1h-1zM1207 373h1v1h-1zM1306 373h4v1h-4zM39 374h3v1h-3zM772 374h1v2h-1zM893 374h1v2h-1zM1016 374h1v2h-1zM1133 374h1v2h-1zM1206 374h1v1h-1zM37 375h2v1h-2zM233 375h1v2h-1zM1205 375h1v1h-1zM35 376h2v1h-2zM773 376h1v3h-1zM894 376h1v1h-1zM1017 376h1v2h-1zM1059 376h1v2h-1zM1132 376h1v1h-1zM1204 376h1v2h-1zM33 377h2v1h-2zM232 377h1v2h-1zM895 377h1v1h-1zM1131 377h1v1h-1zM31 378h2v1h-2zM896 378h1v1h-1zM1018 378h1v2h-1zM1058 378h1v2h-1zM1130 378h1v1h-1zM1203 378h1v1h-1zM30 379h1v1h-1zM231 379h1v2h-1zM774 379h1v2h-1zM897 379h1v1h-1zM1129 379h1v1h-1zM1202 379h1v2h-1zM28 380h2v1h-2zM898 380h1v1h-1zM1019 380h1v2h-1zM1057 380h1v2h-1zM1128 380h1v2h-1zM26 381h2v1h-2zM230 381h1v2h-1zM775 381h1v2h-1zM899 381h1v1h-1zM1201 381h1v1h-1zM25 382h1v1h-1zM900 382h1v2h-1zM1020 382h1v2h-1zM1056 382h1v2h-1zM1127 382h1v1h-1zM1200 382h1v1h-1zM23 383h2v1h-2zM229 383h1v2h-1zM776 383h1v2h-1zM1126 383h1v1h-1zM1199 383h1v2h-1zM21 384h2v1h-2zM901 384h1v1h-1zM1021 384h1v2h-1zM1055 384h1v2h-1zM1125 384h1v1h-1zM20 385h1v1h-1zM228 385h1v1h-1zM777 385h1v2h-1zM902 385h1v1h-1zM1124 385h1v2h-1zM1198 385h1v1h-1zM18 386h2v1h-2zM227 386h1v1h-1zM903 386h1v1h-1zM1022 386h1v3h-1zM1054 386h1v2h-1zM1197 386h1v2h-1zM16 387h2v1h-2zM226 387h1v2h-1zM778 387h1v2h-1zM904 387h1v1h-1zM1123 387h1v2h-1zM15 388h1v1h-1zM905 388h1v1h-1zM1053 388h1v2h-1zM1196 388h1v2h-1zM13 389h2v1h-2zM225 389h1v1h-1zM779 389h1v2h-1zM906 389h1v1h-1zM1023 389h1v2h-1zM1122 389h1v1h-1zM11 390h2v1h-2zM224 390h1v1h-1zM907 390h1v1h-1zM1052 390h1v2h-1zM1121 390h1v2h-1zM1195 390h1v2h-1zM10 391h1v1h-1zM223 391h1v1h-1zM780 391h1v2h-1zM908 391h1v2h-1zM1024 391h1v2h-1zM9 392h1v1h-1zM222 392h1v2h-1zM1051 392h1v2h-1zM1120 392h1v1h-1zM1194 392h1v3h-1zM8 393h1v1h-1zM781 393h1v2h-1zM909 393h1v1h-1zM1025 393h1v2h-1zM1119 393h1v2h-1zM7 394h1v1h-1zM221 394h1v1h-1zM910 394h1v1h-1zM1050 394h1v1h-1zM5 395h2v1h-2zM220 395h1v1h-1zM782 395h1v2h-1zM911 395h1v1h-1zM1026 395h1v2h-1zM1049 395h1v2h-1zM1118 395h1v2h-1zM1193 395h1v4h-1zM4 396h1v1h-1zM219 396h1v1h-1zM912 396h1v1h-1zM3 397h1v1h-1zM218 397h1v1h-1zM783 397h1v2h-1zM913 397h1v2h-1zM1027 397h1v2h-1zM1048 397h1v1h-1zM1117 397h1v1h-1zM2 398h1v1h-1zM216 398h2v1h-2zM1047 398h1v2h-1zM1116 398h1v2h-1zM1 399h1v1h-1zM215 399h1v1h-1zM784 399h1v2h-1zM914 399h1v1h-1zM1028 399h1v2h-1zM1192 399h1v3h-1zM0 400h1v1h-1zM214 400h1v1h-1zM915 400h1v1h-1zM1046 400h1v1h-1zM1115 400h1v1h-1zM213 401h1v1h-1zM785 401h1v2h-1zM916 401h2v1h-2zM1029 401h1v1h-1zM1045 401h1v2h-1zM1114 401h1v1h-1zM212 402h1v2h-1zM918 402h1v1h-1zM1030 402h1v1h-1zM1113 402h1v2h-1zM1191 402h1v3h-1zM786 403h1v2h-1zM919 403h1v1h-1zM1031 403h1v1h-1zM1044 403h1v1h-1zM211 404h1v2h-1zM920 404h2v1h-2zM1032 404h1v2h-1zM1043 404h1v2h-1zM1112 404h1v1h-1zM787 405h1v2h-1zM922 405h1v1h-1zM1111 405h1v1h-1zM1190 405h1v4h-1zM210 406h1v3h-1zM923 406h2v1h-2zM1033 406h1v1h-1zM1041 406h2v1h-2zM1110 406h1v2h-1zM788 407h1v3h-1zM925 407h1v1h-1zM1034 407h1v1h-1zM1039 407h2v1h-2zM926 408h2v1h-2zM1035 408h1v1h-1zM1037 408h2v1h-2zM1109 408h1v1h-1zM209 409h1v3h-1zM928 409h2v1h-2zM1036 409h1v1h-1zM1108 409h1v1h-1zM1189 409h1v4h-1zM789 410h1v2h-1zM930 410h1v1h-1zM1107 410h1v2h-1zM931 411h2v1h-2zM208 412h1v2h-1zM790 412h1v2h-1zM933 412h2v1h-2zM1106 412h1v1h-1zM935 413h1v1h-1zM1105 413h1v1h-1zM1188 413h1v4h-1zM207 414h1v3h-1zM791 414h1v2h-1zM936 414h2v1h-2zM1104 414h1v2h-1zM938 415h2v1h-2zM792 416h1v2h-1zM940 416h1v1h-1zM1103 416h1v1h-1zM206 417h1v2h-1zM941 417h2v1h-2zM1102 417h1v1h-1zM1187 417h1v4h-1zM793 418h1v2h-1zM943 418h1v1h-1zM1101 418h1v2h-1zM63 419h3v1h-3zM205 419h1v2h-1zM944 419h1v1h-1zM62 420h1v1h-1zM66 420h3v1h-3zM204 420h1v1h-1zM794 420h1v2h-1zM945 420h2v1h-2zM1100 420h1v1h-1zM61 421h1v2h-1zM69 421h2v1h-2zM200 421h4v1h-4zM947 421h1v1h-1zM1099 421h1v2h-1zM1186 421h1v3h-1zM71 422h2v1h-2zM157 422h7v1h-7zM196 422h4v1h-4zM795 422h1v2h-1zM948 422h1v1h-1zM60 423h1v1h-1zM73 423h2v1h-2zM155 423h2v1h-2zM164 423h9v1h-9zM192 423h4v1h-4zM949 423h2v1h-2zM1098 423h1v1h-1zM59 424h1v1h-1zM75 424h2v1h-2zM132 424h9v1h-9zM152 424h3v1h-3zM173 424h5v1h-5zM185 424h7v1h-7zM796 424h1v2h-1zM951 424h1v1h-1zM1097 424h1v1h-1zM1185 424h1v2h-1zM58 425h1v1h-1zM77 425h6v1h-6zM106 425h26v1h-26zM141 425h5v1h-5zM150 425h2v1h-2zM178 425h7v1h-7zM952 425h1v1h-1zM1096 425h1v2h-1zM57 426h1v1h-1zM83 426h23v1h-23zM146 426h4v1h-4zM797 426h1v2h-1zM953 426h2v1h-2zM1184 426h1v2h-1zM56 427h1v1h-1zM955 427h1v1h-1zM1095 427h1v1h-1zM55 428h1v2h-1zM798 428h1v2h-1zM956 428h2v1h-2zM1094 428h1v1h-1zM1183 428h1v3h-1zM958 429h2v1h-2zM1093 429h1v2h-1zM54 430h1v1h-1zM799 430h1v2h-1zM960 430h1v1h-1zM53 431h1v1h-1zM961 431h2v1h-2zM1092 431h1v1h-1zM1182 431h1v2h-1zM52 432h1v1h-1zM800 432h1v2h-1zM963 432h2v1h-2zM1091 432h1v1h-1zM51 433h1v1h-1zM965 433h1v1h-1zM1090 433h1v2h-1zM1181 433h1v2h-1zM50 434h1v1h-1zM801 434h1v2h-1zM966 434h2v1h-2zM49 435h1v1h-1zM868 435h3v1h-3zM968 435h2v1h-2zM1089 435h1v1h-1zM1180 435h1v2h-1zM47 436h2v1h-2zM802 436h1v2h-1zM865 436h3v1h-3zM871 436h2v1h-2zM970 436h1v1h-1zM1088 436h1v1h-1zM46 437h1v1h-1zM862 437h3v1h-3zM873 437h2v1h-2zM971 437h2v1h-2zM1087 437h1v2h-1zM1179 437h1v1h-1zM45 438h1v1h-1zM803 438h1v2h-1zM859 438h3v1h-3zM875 438h2v1h-2zM973 438h2v1h-2zM1178 438h1v1h-1zM44 439h1v1h-1zM857 439h2v1h-2zM877 439h2v1h-2zM975 439h2v1h-2zM1086 439h1v1h-1zM1177 439h1v1h-1zM43 440h1v1h-1zM804 440h1v1h-1zM855 440h2v1h-2zM879 440h2v1h-2zM977 440h2v1h-2zM1085 440h1v1h-1zM1176 440h1v1h-1zM42 441h1v1h-1zM805 441h1v2h-1zM853 441h2v1h-2zM881 441h2v1h-2zM979 441h2v1h-2zM1084 441h1v1h-1zM1175 441h1v1h-1zM41 442h1v2h-1zM851 442h2v1h-2zM883 442h1v1h-1zM981 442h2v1h-2zM1083 442h1v2h-1zM1174 442h1v1h-1zM806 443h1v2h-1zM849 443h2v1h-2zM884 443h1v1h-1zM983 443h2v1h-2zM1173 443h1v1h-1zM40 444h1v1h-1zM847 444h2v1h-2zM885 444h2v1h-2zM985 444h1v1h-1zM1082 444h1v1h-1zM1172 444h1v2h-1zM39 445h1v1h-1zM807 445h1v2h-1zM845 445h2v1h-2zM887 445h1v1h-1zM986 445h1v1h-1zM1081 445h1v1h-1zM38 446h1v2h-1zM843 446h2v1h-2zM888 446h2v1h-2zM987 446h2v1h-2zM1080 446h1v1h-1zM1171 446h1v1h-1zM808 447h1v1h-1zM841 447h2v1h-2zM890 447h1v1h-1zM989 447h1v1h-1zM1079 447h1v1h-1zM1170 447h1v2h-1zM37 448h1v1h-1zM809 448h1v2h-1zM839 448h2v1h-2zM891 448h1v2h-1zM990 448h1v1h-1zM1078 448h1v2h-1zM36 449h1v1h-1zM837 449h2v1h-2zM991 449h1v1h-1zM1169 449h1v3h-1zM35 450h1v2h-1zM810 450h1v2h-1zM835 450h2v1h-2zM892 450h1v1h-1zM992 450h2v1h-2zM1077 450h1v1h-1zM834 451h1v2h-1zM893 451h1v2h-1zM994 451h1v1h-1zM1076 451h1v1h-1zM34 452h1v1h-1zM811 452h1v2h-1zM995 452h1v1h-1zM1075 452h1v1h-1zM1168 452h1v4h-1zM33 453h1v1h-1zM833 453h1v1h-1zM894 453h1v1h-1zM996 453h1v1h-1zM1074 453h1v1h-1zM32 454h1v1h-1zM812 454h2v1h-2zM832 454h1v2h-1zM895 454h1v2h-1zM997 454h2v1h-2zM1073 454h1v1h-1zM31 455h1v2h-1zM814 455h2v1h-2zM999 455h1v1h-1zM1072 455h1v1h-1zM816 456h3v1h-3zM831 456h1v1h-1zM896 456h1v1h-1zM1000 456h1v1h-1zM1071 456h1v1h-1zM1167 456h1v3h-1zM30 457h1v1h-1zM819 457h3v1h-3zM830 457h1v1h-1zM897 457h1v2h-1zM1001 457h1v1h-1zM1070 457h1v1h-1zM29 458h1v1h-1zM822 458h2v1h-2zM829 458h1v2h-1zM1002 458h2v1h-2zM1069 458h1v1h-1zM28 459h1v1h-1zM824 459h3v1h-3zM898 459h1v1h-1zM1004 459h1v1h-1zM1068 459h1v1h-1zM1166 459h1v3h-1zM27 460h1v1h-1zM827 460h2v1h-2zM899 460h1v2h-1zM1005 460h1v1h-1zM1067 460h1v1h-1zM26 461h1v2h-1zM1006 461h1v1h-1zM1066 461h1v1h-1zM900 462h1v1h-1zM1007 462h2v1h-2zM1065 462h1v1h-1zM1165 462h1v3h-1zM25 463h1v1h-1zM901 463h1v2h-1zM1009 463h1v1h-1zM1064 463h1v1h-1zM24 464h1v1h-1zM1010 464h1v1h-1zM1062 464h2v1h-2zM23 465h1v1h-1zM902 465h1v2h-1zM1011 465h2v1h-2zM1061 465h1v1h-1zM1164 465h1v3h-1zM22 466h1v2h-1zM1013 466h2v1h-2zM1060 466h1v1h-1zM903 467h1v2h-1zM1015 467h1v1h-1zM1059 467h1v1h-1zM21 468h1v1h-1zM1016 468h2v1h-2zM1057 468h2v1h-2zM1163 468h1v4h-1zM20 469h1v2h-1zM904 469h1v2h-1zM1018 469h2v1h-2zM1056 469h1v1h-1zM1020 470h2v1h-2zM1054 470h2v1h-2zM19 471h1v2h-1zM905 471h1v2h-1zM1022 471h3v1h-3zM1051 471h3v1h-3zM1025 472h4v1h-4zM1049 472h2v1h-2zM1162 472h1v3h-1zM18 473h1v1h-1zM906 473h1v2h-1zM1029 473h8v1h-8zM1046 473h3v1h-3zM17 474h1v2h-1zM1037 474h9v1h-9zM907 475h1v2h-1zM1161 475h1v3h-1zM16 476h1v1h-1zM15 477h1v1h-1zM908 477h1v2h-1zM14 478h1v2h-1zM1160 478h1v2h-1zM909 479h1v2h-1zM13 480h1v1h-1zM1159 480h1v3h-1zM0 481h13v1h-13zM910 481h1v3h-1zM1158 483h1v3h-1zM911 484h1v2h-1zM912 486h1v2h-1zM1157 486h1v2h-1zM913 488h1v2h-1zM1156 488h1v2h-1zM914 490h1v2h-1zM1154 490h2v1h-2zM1153 491h1v1h-1zM915 492h1v3h-1zM1151 492h2v1h-2zM1150 493h1v1h-1zM1148 494h2v1h-2zM916 495h1v2h-1zM1147 495h1v1h-1zM1146 496h1v2h-1zM917 497h1v2h-1zM1145 498h1v2h-1zM918 499h1v2h-1zM1144 500h1v2h-1zM919 501h1v2h-1zM1143 502h1v2h-1zM920 503h1v2h-1zM1142 504h1v2h-1zM921 505h1v2h-1zM1141 506h1v2h-1zM922 507h1v2h-1zM1140 508h1v2h-1zM923 509h1v2h-1zM1139 510h1v2h-1zM924 511h1v2h-1zM1138 512h1v1h-1zM925 513h1v2h-1zM1137 513h1v2h-1zM926 515h1v2h-1zM1136 515h1v2h-1zM927 517h1v2h-1zM1135 517h1v2h-1zM928 519h1v2h-1zM1134 519h1v2h-1zM929 521h1v2h-1zM1133 521h1v2h-1zM930 523h1v2h-1zM1132 523h1v2h-1zM931 525h1v2h-1zM1131 525h1v2h-1zM932 527h1v1h-1zM1130 527h1v2h-1zM933 528h1v2h-1zM1129 529h1v2h-1zM934 530h1v2h-1zM1128 531h1v2h-1zM935 532h1v1h-1zM936 533h1v2h-1zM1127 533h1v3h-1zM937 535h1v1h-1zM938 536h1v2h-1zM1126 536h1v2h-1zM939 538h1v2h-1zM1125 538h1v2h-1zM940 540h1v1h-1zM1035 540h3v1h-3zM1124 540h1v2h-1zM941 541h1v1h-1zM1033 541h2v1h-2zM1038 541h2v1h-2zM942 542h1v1h-1zM1031 542h2v1h-2zM1040 542h2v1h-2zM1123 542h1v1h-1zM943 543h1v2h-1zM1029 543h2v1h-2zM1042 543h2v1h-2zM1121 543h2v1h-2zM1028 544h1v1h-1zM1044 544h2v1h-2zM1120 544h1v1h-1zM944 545h1v1h-1zM1027 545h1v2h-1zM1046 545h1v1h-1zM1119 545h1v1h-1zM945 546h1v1h-1zM1047 546h1v1h-1zM1117 546h2v1h-2zM946 547h1v1h-1zM1026 547h1v2h-1zM1048 547h1v1h-1zM1116 547h1v1h-1zM947 548h1v1h-1zM1049 548h1v1h-1zM1115 548h1v1h-1zM948 549h1v1h-1zM1025 549h1v2h-1zM1050 549h1v1h-1zM1113 549h2v1h-2zM949 550h1v2h-1zM1051 550h1v2h-1zM1111 550h2v1h-2zM1024 551h1v1h-1zM1109 551h2v1h-2zM950 552h1v1h-1zM1023 552h1v2h-1zM1052 552h1v1h-1zM1108 552h1v1h-1zM951 553h1v1h-1zM1053 553h1v1h-1zM1106 553h2v1h-2zM952 554h1v1h-1zM1022 554h1v2h-1zM1054 554h1v1h-1zM1104 554h2v1h-2zM953 555h1v2h-1zM1055 555h1v1h-1zM1091 555h13v1h-13zM1021 556h1v1h-1zM1056 556h1v1h-1z" fill="#2fae65" shape-rendering="crispEdges" clip-path="url(#cm)"/>
<rect x="1239.5" y="263.5" width="73.0" height="24.0" fill="#fff" stroke="#ff0000" stroke-width="1" shape-rendering="crispEdges"/>
<text x="1276.2" y="284.0" font-size="22" fill="#ff0000" text-anchor="middle" textLength="69.0" lengthAdjust="spacingAndGlyphs">1.35685</text>
<rect x="1229" y="275" width="10" height="1" fill="#ff0000" shape-rendering="crispEdges"/>
<g shape-rendering="crispEdges" clip-path="url(#cm)">
<rect x="4" y="300" width="1" height="107" fill="#000"/>
<rect x="2" y="306" width="5" height="87" fill="#000"/>
<rect x="3" y="307" width="3" height="85" fill="#fff"/>
<rect x="12" y="304" width="1" height="25" fill="#000"/>
<rect x="10" y="307" width="5" height="15" fill="#000"/>
<rect x="20" y="321" width="1" height="18" fill="#000"/>
<rect x="18" y="326" width="5" height="11" fill="#000"/>
<rect x="28" y="326" width="1" height="43" fill="#000"/>
<rect x="26" y="336" width="5" height="29" fill="#000"/>
<rect x="36" y="353" width="1" height="16" fill="#000"/>
<rect x="34" y="357" width="5" height="6" fill="#000"/>
<rect x="35" y="358" width="3" height="4" fill="#fff"/>
<rect x="44" y="327" width="1" height="33" fill="#000"/>
<rect x="42" y="350" width="5" height="9" fill="#000"/>
<rect x="43" y="351" width="3" height="7" fill="#fff"/>
<rect x="52" y="348" width="1" height="103" fill="#000"/>
<rect x="50" y="349" width="5" height="83" fill="#000"/>
<rect x="60" y="380" width="1" height="64" fill="#000"/>
<rect x="58" y="383" width="5" height="47" fill="#000"/>
<rect x="59" y="384" width="3" height="45" fill="#fff"/>
<rect x="68" y="380" width="1" height="25" fill="#000"/>
<rect x="66" y="383" width="5" height="4" fill="#000"/>
<rect x="76" y="382" width="1" height="29" fill="#000"/>
<rect x="74" y="385" width="5" height="25" fill="#000"/>
<rect x="84" y="377" width="1" height="39" fill="#000"/>
<rect x="82" y="377" width="5" height="33" fill="#000"/>
<rect x="83" y="378" width="3" height="31" fill="#fff"/>
<rect x="92" y="345" width="1" height="39" fill="#000"/>
<rect x="90" y="369" width="5" height="10" fill="#000"/>
<rect x="91" y="370" width="3" height="8" fill="#fff"/>
<rect x="100" y="291" width="1" height="100" fill="#000"/>
<rect x="98" y="296" width="5" height="74" fill="#000"/>
<rect x="99" y="297" width="3" height="72" fill="#fff"/>
<rect x="108" y="295" width="1" height="43" fill="#000"/>
<rect x="106" y="296" width="5" height="24" fill="#000"/>
<rect x="116" y="315" width="1" height="19" fill="#000"/>
<rect x="114" y="319" width="5" height="7" fill="#000"/>
<rect x="124" y="312" width="1" height="18" fill="#000"/>
<rect x="122" y="322" width="5" height="4" fill="#000"/>
<rect x="123" y="323" width="3" height="2" fill="#fff"/>
<rect x="132" y="311" width="1" height="24" fill="#000"/>
<rect x="130" y="318" width="5" height="5" fill="#000"/>
<rect x="131" y="319" width="3" height="3" fill="#fff"/>
<rect x="140" y="294" width="1" height="35" fill="#000"/>
<rect x="138" y="311" width="5" height="8" fill="#000"/>
<rect x="139" y="312" width="3" height="6" fill="#fff"/>
<rect x="148" y="278" width="1" height="46" fill="#000"/>
<rect x="146" y="280" width="5" height="32" fill="#000"/>
<rect x="147" y="281" width="3" height="30" fill="#fff"/>
<rect x="156" y="238" width="1" height="54" fill="#000"/>
<rect x="154" y="281" width="5" height="6" fill="#000"/>
<rect x="164" y="286" width="1" height="17" fill="#000"/>
<rect x="162" y="287" width="5" height="8" fill="#000"/>
<rect x="172" y="294" width="1" height="29" fill="#000"/>
<rect x="170" y="294" width="5" height="22" fill="#000"/>
<rect x="180" y="315" width="1" height="57" fill="#000"/>
<rect x="178" y="316" width="5" height="49" fill="#000"/>
<rect x="188" y="304" width="1" height="73" fill="#000"/>
<rect x="186" y="317" width="5" height="48" fill="#000"/>
<rect x="187" y="318" width="3" height="46" fill="#fff"/>
<rect x="196" y="288" width="1" height="56" fill="#000"/>
<rect x="194" y="316" width="5" height="14" fill="#000"/>
<rect x="204" y="311" width="1" height="25" fill="#000"/>
<rect x="202" y="329" width="5" height="3" fill="#000"/>
<rect x="212" y="316" width="1" height="17" fill="#000"/>
<rect x="210" y="322" width="5" height="10" fill="#000"/>
<rect x="211" y="323" width="3" height="8" fill="#fff"/>
<rect x="220" y="296" width="1" height="33" fill="#000"/>
<rect x="218" y="302" width="5" height="21" fill="#000"/>
<rect x="219" y="303" width="3" height="19" fill="#fff"/>
<rect x="228" y="302" width="1" height="21" fill="#000"/>
<rect x="226" y="302" width="5" height="12" fill="#000"/>
<rect x="236" y="290" width="1" height="40" fill="#000"/>
<rect x="234" y="298" width="5" height="17" fill="#000"/>
<rect x="235" y="299" width="3" height="15" fill="#fff"/>
<rect x="244" y="270" width="1" height="57" fill="#000"/>
<rect x="242" y="271" width="5" height="28" fill="#000"/>
<rect x="243" y="272" width="3" height="26" fill="#fff"/>
<rect x="252" y="240" width="1" height="47" fill="#000"/>
<rect x="250" y="242" width="5" height="31" fill="#000"/>
<rect x="251" y="243" width="3" height="29" fill="#fff"/>
<rect x="260" y="246" width="1" height="23" fill="#000"/>
<rect x="258" y="247" width="5" height="22" fill="#000"/>
<rect x="259" y="248" width="3" height="20" fill="#fff"/>
<rect x="268" y="240" width="1" height="21" fill="#000"/>
<rect x="266" y="248" width="5" height="10" fill="#000"/>
<rect x="276" y="244" width="1" height="21" fill="#000"/>
<rect x="274" y="255" width="5" height="3" fill="#000"/>
<rect x="275" y="256" width="3" height="1" fill="#fff"/>
<rect x="284" y="232" width="1" height="38" fill="#000"/>
<rect x="282" y="255" width="5" height="5" fill="#000"/>
<rect x="292" y="249" width="1" height="74" fill="#000"/>
<rect x="290" y="259" width="5" height="28" fill="#000"/>
<rect x="300" y="269" width="1" height="27" fill="#000"/>
<rect x="298" y="274" width="5" height="13" fill="#000"/>
<rect x="299" y="275" width="3" height="11" fill="#fff"/>
<rect x="308" y="261" width="1" height="16" fill="#000"/>
<rect x="306" y="262" width="5" height="12" fill="#000"/>
<rect x="307" y="263" width="3" height="10" fill="#fff"/>
<rect x="316" y="240" width="1" height="26" fill="#000"/>
<rect x="314" y="246" width="5" height="18" fill="#000"/>
<rect x="315" y="247" width="3" height="16" fill="#fff"/>
<rect x="324" y="236" width="1" height="27" fill="#000"/>
<rect x="322" y="240" width="5" height="7" fill="#000"/>
<rect x="323" y="241" width="3" height="5" fill="#fff"/>
<rect x="332" y="212" width="1" height="45" fill="#000"/>
<rect x="330" y="239" width="5" height="18" fill="#000"/>
<rect x="340" y="230" width="1" height="56" fill="#000"/>
<rect x="338" y="231" width="5" height="25" fill="#000"/>
<rect x="339" y="232" width="3" height="23" fill="#fff"/>
<rect x="348" y="201" width="1" height="30" fill="#000"/>
<rect x="346" y="202" width="5" height="30" fill="#000"/>
<rect x="347" y="203" width="3" height="28" fill="#fff"/>
<rect x="356" y="190" width="1" height="15" fill="#000"/>
<rect x="354" y="195" width="5" height="8" fill="#000"/>
<rect x="355" y="196" width="3" height="6" fill="#fff"/>
<rect x="364" y="179" width="1" height="22" fill="#000"/>
<rect x="362" y="180" width="5" height="15" fill="#000"/>
<rect x="363" y="181" width="3" height="13" fill="#fff"/>
<rect x="372" y="179" width="1" height="26" fill="#000"/>
<rect x="370" y="180" width="5" height="20" fill="#000"/>
<rect x="380" y="185" width="1" height="26" fill="#000"/>
<rect x="378" y="194" width="5" height="5" fill="#000"/>
<rect x="379" y="195" width="3" height="3" fill="#fff"/>
<rect x="388" y="115" width="1" height="79" fill="#000"/>
<rect x="386" y="126" width="5" height="68" fill="#000"/>
<rect x="387" y="127" width="3" height="66" fill="#fff"/>
<rect x="396" y="93" width="1" height="37" fill="#000"/>
<rect x="394" y="95" width="5" height="33" fill="#000"/>
<rect x="395" y="96" width="3" height="31" fill="#fff"/>
<rect x="404" y="93" width="1" height="22" fill="#000"/>
<rect x="402" y="94" width="5" height="9" fill="#000"/>
<rect x="412" y="86" width="1" height="19" fill="#000"/>
<rect x="410" y="96" width="5" height="8" fill="#000"/>
<rect x="411" y="97" width="3" height="6" fill="#fff"/>
<rect x="420" y="70" width="1" height="34" fill="#000"/>
<rect x="418" y="70" width="5" height="27" fill="#000"/>
<rect x="419" y="71" width="3" height="25" fill="#fff"/>
<rect x="428" y="48" width="1" height="32" fill="#000"/>
<rect x="426" y="70" width="5" height="5" fill="#000"/>
<rect x="436" y="49" width="1" height="45" fill="#000"/>
<rect x="434" y="67" width="5" height="8" fill="#000"/>
<rect x="435" y="68" width="3" height="6" fill="#fff"/>
<rect x="444" y="59" width="1" height="41" fill="#000"/>
<rect x="442" y="66" width="5" height="20" fill="#000"/>
<rect x="452" y="84" width="1" height="25" fill="#000"/>
<rect x="450" y="84" width="5" height="10" fill="#000"/>
<rect x="460" y="73" width="1" height="31" fill="#000"/>
<rect x="458" y="76" width="5" height="19" fill="#000"/>
<rect x="459" y="77" width="3" height="17" fill="#fff"/>
<rect x="468" y="63" width="1" height="27" fill="#000"/>
<rect x="466" y="76" width="5" height="4" fill="#000"/>
<rect x="476" y="56" width="1" height="31" fill="#000"/>
<rect x="474" y="78" width="5" height="9" fill="#000"/>
<rect x="484" y="76" width="1" height="68" fill="#000"/>
<rect x="482" y="87" width="5" height="45" fill="#000"/>
<rect x="492" y="124" width="1" height="46" fill="#000"/>
<rect x="490" y="132" width="5" height="9" fill="#000"/>
<rect x="500" y="140" width="1" height="15" fill="#000"/>
<rect x="498" y="144" width="5" height="1" fill="#000"/>
<rect x="508" y="133" width="1" height="24" fill="#000"/>
<rect x="506" y="138" width="5" height="6" fill="#000"/>
<rect x="507" y="139" width="3" height="4" fill="#fff"/>
<rect x="516" y="128" width="1" height="21" fill="#000"/>
<rect x="514" y="130" width="5" height="8" fill="#000"/>
<rect x="515" y="131" width="3" height="6" fill="#fff"/>
<rect x="524" y="123" width="1" height="43" fill="#000"/>
<rect x="522" y="130" width="5" height="30" fill="#000"/>
<rect x="532" y="154" width="1" height="36" fill="#000"/>
<rect x="530" y="159" width="5" height="17" fill="#000"/>
<rect x="540" y="165" width="1" height="18" fill="#000"/>
<rect x="538" y="175" width="5" height="6" fill="#000"/>
<rect x="548" y="176" width="1" height="10" fill="#000"/>
<rect x="546" y="176" width="5" height="5" fill="#000"/>
<rect x="547" y="177" width="3" height="3" fill="#fff"/>
<rect x="556" y="159" width="1" height="51" fill="#000"/>
<rect x="554" y="175" width="5" height="27" fill="#000"/>
<rect x="564" y="174" width="1" height="27" fill="#000"/>
<rect x="562" y="181" width="5" height="20" fill="#000"/>
<rect x="563" y="182" width="3" height="18" fill="#fff"/>
<rect x="572" y="170" width="1" height="65" fill="#000"/>
<rect x="570" y="181" width="5" height="53" fill="#000"/>
<rect x="580" y="232" width="1" height="39" fill="#000"/>
<rect x="578" y="232" width="5" height="28" fill="#000"/>
<rect x="588" y="232" width="1" height="39" fill="#000"/>
<rect x="586" y="240" width="5" height="20" fill="#000"/>
<rect x="587" y="241" width="3" height="18" fill="#fff"/>
<rect x="596" y="236" width="1" height="21" fill="#000"/>
<rect x="594" y="237" width="5" height="3" fill="#000"/>
<rect x="595" y="238" width="3" height="1" fill="#fff"/>
<rect x="604" y="230" width="1" height="23" fill="#000"/>
<rect x="602" y="236" width="5" height="3" fill="#000"/>
<rect x="612" y="214" width="1" height="38" fill="#000"/>
<rect x="610" y="238" width="5" height="13" fill="#000"/>
<rect x="620" y="180" width="1" height="73" fill="#000"/>
<rect x="618" y="198" width="5" height="53" fill="#000"/>
<rect x="619" y="199" width="3" height="51" fill="#fff"/>
<rect x="628" y="175" width="1" height="36" fill="#000"/>
<rect x="626" y="198" width="5" height="4" fill="#000"/>
<rect x="636" y="192" width="1" height="19" fill="#000"/>
<rect x="634" y="201" width="5" height="4" fill="#000"/>
<rect x="644" y="200" width="1" height="29" fill="#000"/>
<rect x="642" y="204" width="5" height="23" fill="#000"/>
<rect x="652" y="191" width="1" height="34" fill="#000"/>
<rect x="650" y="203" width="5" height="22" fill="#000"/>
<rect x="651" y="204" width="3" height="20" fill="#fff"/>
<rect x="660" y="194" width="1" height="19" fill="#000"/>
<rect x="658" y="203" width="5" height="1" fill="#000"/>
<rect x="668" y="189" width="1" height="43" fill="#000"/>
<rect x="666" y="203" width="5" height="25" fill="#000"/>
<rect x="676" y="158" width="1" height="79" fill="#000"/>
<rect x="674" y="166" width="5" height="61" fill="#000"/>
<rect x="675" y="167" width="3" height="59" fill="#fff"/>
<rect x="684" y="160" width="1" height="61" fill="#000"/>
<rect x="682" y="166" width="5" height="56" fill="#000"/>
<rect x="692" y="216" width="1" height="38" fill="#000"/>
<rect x="690" y="220" width="5" height="22" fill="#000"/>
<rect x="700" y="234" width="1" height="30" fill="#000"/>
<rect x="698" y="240" width="5" height="3" fill="#000"/>
<rect x="708" y="241" width="1" height="34" fill="#000"/>
<rect x="706" y="243" width="5" height="25" fill="#000"/>
<rect x="716" y="267" width="1" height="31" fill="#000"/>
<rect x="714" y="267" width="5" height="25" fill="#000"/>
<rect x="724" y="266" width="1" height="40" fill="#000"/>
<rect x="722" y="291" width="5" height="4" fill="#000"/>
<rect x="732" y="277" width="1" height="23" fill="#000"/>
<rect x="730" y="293" width="5" height="2" fill="#000"/>
<rect x="740" y="293" width="1" height="12" fill="#000"/>
<rect x="738" y="294" width="5" height="8" fill="#000"/>
<rect x="739" y="295" width="3" height="6" fill="#fff"/>
<rect x="748" y="281" width="1" height="20" fill="#000"/>
<rect x="746" y="293" width="5" height="2" fill="#000"/>
<rect x="756" y="289" width="1" height="33" fill="#000"/>
<rect x="754" y="293" width="5" height="18" fill="#000"/>
<rect x="764" y="293" width="1" height="89" fill="#000"/>
<rect x="762" y="310" width="5" height="69" fill="#000"/>
<rect x="772" y="370" width="1" height="65" fill="#000"/>
<rect x="770" y="379" width="5" height="30" fill="#000"/>
<rect x="780" y="384" width="1" height="55" fill="#000"/>
<rect x="778" y="385" width="5" height="25" fill="#000"/>
<rect x="779" y="386" width="3" height="23" fill="#fff"/>
<rect x="788" y="372" width="1" height="17" fill="#000"/>
<rect x="786" y="378" width="5" height="9" fill="#000"/>
<rect x="787" y="379" width="3" height="7" fill="#fff"/>
<rect x="796" y="377" width="1" height="29" fill="#000"/>
<rect x="794" y="378" width="5" height="16" fill="#000"/>
<rect x="804" y="380" width="1" height="21" fill="#000"/>
<rect x="802" y="384" width="5" height="10" fill="#000"/>
<rect x="803" y="385" width="3" height="8" fill="#fff"/>
<rect x="812" y="368" width="1" height="67" fill="#000"/>
<rect x="810" y="385" width="5" height="47" fill="#000"/>
<rect x="820" y="371" width="1" height="74" fill="#000"/>
<rect x="818" y="383" width="5" height="49" fill="#000"/>
<rect x="819" y="384" width="3" height="47" fill="#fff"/>
<rect x="828" y="340" width="1" height="52" fill="#000"/>
<rect x="826" y="341" width="5" height="43" fill="#000"/>
<rect x="827" y="342" width="3" height="41" fill="#fff"/>
<rect x="836" y="340" width="1" height="28" fill="#000"/>
<rect x="834" y="341" width="5" height="11" fill="#000"/>
<rect x="844" y="336" width="1" height="20" fill="#000"/>
<rect x="842" y="351" width="5" height="2" fill="#000"/>
<rect x="852" y="345" width="1" height="23" fill="#000"/>
<rect x="850" y="351" width="5" height="11" fill="#000"/>
<rect x="860" y="334" width="1" height="37" fill="#000"/>
<rect x="858" y="348" width="5" height="14" fill="#000"/>
<rect x="859" y="349" width="3" height="12" fill="#fff"/>
<rect x="868" y="336" width="1" height="39" fill="#000"/>
<rect x="866" y="347" width="5" height="5" fill="#000"/>
<rect x="876" y="332" width="1" height="84" fill="#000"/>
<rect x="874" y="351" width="5" height="55" fill="#000"/>
<rect x="884" y="404" width="1" height="31" fill="#000"/>
<rect x="882" y="405" width="5" height="1" fill="#000"/>
<rect x="892" y="405" width="1" height="41" fill="#000"/>
<rect x="890" y="405" width="5" height="40" fill="#000"/>
<rect x="900" y="437" width="1" height="39" fill="#000"/>
<rect x="898" y="444" width="5" height="30" fill="#000"/>
<rect x="908" y="448" width="1" height="73" fill="#000"/>
<rect x="906" y="474" width="5" height="34" fill="#000"/>
<rect x="916" y="481" width="1" height="63" fill="#000"/>
<rect x="914" y="502" width="5" height="5" fill="#000"/>
<rect x="915" y="503" width="3" height="3" fill="#fff"/>
<rect x="924" y="484" width="1" height="49" fill="#000"/>
<rect x="922" y="503" width="5" height="21" fill="#000"/>
<rect x="932" y="504" width="1" height="19" fill="#000"/>
<rect x="930" y="506" width="5" height="18" fill="#000"/>
<rect x="931" y="507" width="3" height="16" fill="#fff"/>
<rect x="940" y="484" width="1" height="33" fill="#000"/>
<rect x="938" y="490" width="5" height="17" fill="#000"/>
<rect x="939" y="491" width="3" height="15" fill="#fff"/>
<rect x="948" y="470" width="1" height="44" fill="#000"/>
<rect x="946" y="491" width="5" height="17" fill="#000"/>
<rect x="956" y="497" width="1" height="38" fill="#000"/>
<rect x="954" y="503" width="5" height="4" fill="#000"/>
<rect x="955" y="504" width="3" height="2" fill="#fff"/>
<rect x="964" y="450" width="1" height="74" fill="#000"/>
<rect x="962" y="472" width="5" height="32" fill="#000"/>
<rect x="963" y="473" width="3" height="30" fill="#fff"/>
<rect x="972" y="448" width="1" height="76" fill="#000"/>
<rect x="970" y="470" width="5" height="39" fill="#000"/>
<rect x="980" y="486" width="1" height="21" fill="#000"/>
<rect x="978" y="487" width="5" height="8" fill="#000"/>
<rect x="979" y="488" width="3" height="6" fill="#fff"/>
<rect x="988" y="472" width="1" height="20" fill="#000"/>
<rect x="986" y="478" width="5" height="10" fill="#000"/>
<rect x="987" y="479" width="3" height="8" fill="#fff"/>
<rect x="996" y="445" width="1" height="34" fill="#000"/>
<rect x="994" y="446" width="5" height="31" fill="#000"/>
<rect x="995" y="447" width="3" height="29" fill="#fff"/>
<rect x="1004" y="428" width="1" height="58" fill="#000"/>
<rect x="1002" y="445" width="5" height="41" fill="#000"/>
<rect x="1012" y="420" width="1" height="79" fill="#000"/>
<rect x="1010" y="467" width="5" height="19" fill="#000"/>
<rect x="1011" y="468" width="3" height="17" fill="#fff"/>
<rect x="1020" y="414" width="1" height="69" fill="#000"/>
<rect x="1018" y="417" width="5" height="50" fill="#000"/>
<rect x="1019" y="418" width="3" height="48" fill="#fff"/>
<rect x="1028" y="413" width="1" height="32" fill="#000"/>
<rect x="1026" y="417" width="5" height="17" fill="#000"/>
<rect x="1036" y="429" width="1" height="18" fill="#000"/>
<rect x="1034" y="432" width="5" height="8" fill="#000"/>
<rect x="1044" y="389" width="1" height="50" fill="#000"/>
<rect x="1042" y="391" width="5" height="48" fill="#000"/>
<rect x="1043" y="392" width="3" height="46" fill="#fff"/>
<rect x="1052" y="345" width="1" height="56" fill="#000"/>
<rect x="1050" y="372" width="5" height="20" fill="#000"/>
<rect x="1051" y="373" width="3" height="18" fill="#fff"/>
<rect x="1060" y="342" width="1" height="52" fill="#000"/>
<rect x="1058" y="356" width="5" height="15" fill="#000"/>
<rect x="1059" y="357" width="3" height="13" fill="#fff"/>
<rect x="1068" y="336" width="1" height="35" fill="#000"/>
<rect x="1066" y="341" width="5" height="16" fill="#000"/>
<rect x="1067" y="342" width="3" height="14" fill="#fff"/>
<rect x="1076" y="327" width="1" height="22" fill="#000"/>
<rect x="1074" y="332" width="5" height="10" fill="#000"/>
<rect x="1075" y="333" width="3" height="8" fill="#fff"/>
<rect x="1084" y="329" width="1" height="14" fill="#000"/>
<rect x="1082" y="332" width="5" height="11" fill="#000"/>
<rect x="1092" y="314" width="1" height="29" fill="#000"/>
<rect x="1090" y="319" width="5" height="24" fill="#000"/>
<rect x="1091" y="320" width="3" height="22" fill="#fff"/>
<rect x="1100" y="279" width="1" height="51" fill="#000"/>
<rect x="1098" y="283" width="5" height="36" fill="#000"/>
<rect x="1099" y="284" width="3" height="34" fill="#fff"/>
<rect x="1108" y="252" width="1" height="43" fill="#000"/>
<rect x="1106" y="280" width="5" height="4" fill="#000"/>
<rect x="1107" y="281" width="3" height="2" fill="#fff"/>
<rect x="1116" y="254" width="1" height="40" fill="#000"/>
<rect x="1114" y="256" width="5" height="24" fill="#000"/>
<rect x="1115" y="257" width="3" height="22" fill="#fff"/>
<rect x="1124" y="254" width="1" height="29" fill="#000"/>
<rect x="1122" y="257" width="5" height="25" fill="#000"/>
<rect x="1132" y="278" width="1" height="17" fill="#000"/>
<rect x="1130" y="281" width="5" height="2" fill="#000"/>
<rect x="1140" y="280" width="1" height="24" fill="#000"/>
<rect x="1138" y="281" width="5" height="10" fill="#000"/>
<rect x="1148" y="277" width="1" height="39" fill="#000"/>
<rect x="1146" y="283" width="5" height="8" fill="#000"/>
<rect x="1147" y="284" width="3" height="6" fill="#fff"/>
<rect x="1156" y="201" width="1" height="104" fill="#000"/>
<rect x="1154" y="225" width="5" height="53" fill="#000"/>
<rect x="1155" y="226" width="3" height="51" fill="#fff"/>
<rect x="1164" y="211" width="1" height="45" fill="#000"/>
<rect x="1162" y="224" width="5" height="28" fill="#000"/>
<rect x="1172" y="233" width="1" height="23" fill="#000"/>
<rect x="1170" y="240" width="5" height="12" fill="#000"/>
<rect x="1171" y="241" width="3" height="10" fill="#fff"/>
<rect x="1180" y="218" width="1" height="27" fill="#000"/>
<rect x="1178" y="225" width="5" height="16" fill="#000"/>
<rect x="1179" y="226" width="3" height="14" fill="#fff"/>
<rect x="1188" y="221" width="1" height="42" fill="#000"/>
<rect x="1186" y="225" width="5" height="36" fill="#000"/>
<rect x="1196" y="253" width="1" height="47" fill="#000"/>
<rect x="1194" y="260" width="5" height="13" fill="#000"/>
<rect x="1204" y="262" width="1" height="95" fill="#000"/>
<rect x="1202" y="272" width="5" height="53" fill="#000"/>
<rect x="1212" y="298" width="1" height="36" fill="#000"/>
<rect x="1210" y="325" width="5" height="3" fill="#000"/>
<rect x="1220" y="318" width="1" height="8" fill="#000"/>
<rect x="1218" y="322" width="5" height="2" fill="#000"/>
<rect x="1228" y="318" width="1" height="26" fill="#000"/>
<rect x="1226" y="322" width="5" height="12" fill="#000"/>
<rect x="1236" y="307" width="1" height="34" fill="#000"/>
<rect x="1234" y="309" width="5" height="25" fill="#000"/>
<rect x="1235" y="310" width="3" height="23" fill="#fff"/>
<rect x="1244" y="299" width="1" height="77" fill="#000"/>
<rect x="1242" y="309" width="5" height="41" fill="#000"/>
<rect x="1252" y="322" width="1" height="40" fill="#000"/>
<rect x="1250" y="325" width="5" height="25" fill="#000"/>
<rect x="1251" y="326" width="3" height="23" fill="#fff"/>
<rect x="1260" y="314" width="1" height="30" fill="#000"/>
<rect x="1258" y="315" width="5" height="10" fill="#000"/>
<rect x="1259" y="316" width="3" height="8" fill="#fff"/>
<rect x="1268" y="314" width="1" height="13" fill="#000"/>
<rect x="1266" y="315" width="5" height="2" fill="#000"/>
<rect x="1276" y="314" width="1" height="20" fill="#000"/>
<rect x="1274" y="316" width="5" height="5" fill="#000"/>
<rect x="1284" y="319" width="1" height="34" fill="#000"/>
<rect x="1282" y="320" width="5" height="14" fill="#000"/>
<rect x="1292" y="282" width="1" height="53" fill="#000"/>
<rect x="1290" y="306" width="5" height="28" fill="#000"/>
<rect x="1291" y="307" width="3" height="26" fill="#fff"/>
<rect x="1300" y="294" width="1" height="50" fill="#000"/>
<rect x="1298" y="296" width="5" height="9" fill="#000"/>
<rect x="1299" y="297" width="3" height="7" fill="#fff"/>
<rect x="1308" y="292" width="1" height="25" fill="#000"/>
<rect x="1306" y="296" width="5" height="14" fill="#000"/>
<rect x="1316" y="294" width="1" height="20" fill="#000"/>
<rect x="1314" y="304" width="5" height="6" fill="#000"/>
<rect x="1315" y="305" width="3" height="4" fill="#fff"/>
<rect x="1324" y="279" width="1" height="31" fill="#000"/>
<rect x="1322" y="288" width="5" height="16" fill="#000"/>
<rect x="1323" y="289" width="3" height="14" fill="#fff"/>
<rect x="1332" y="284" width="1" height="33" fill="#000"/>
<rect x="1330" y="288" width="5" height="9" fill="#000"/>
<rect x="1340" y="251" width="1" height="56" fill="#000"/>
<rect x="1338" y="266" width="5" height="31" fill="#000"/>
<rect x="1339" y="267" width="3" height="29" fill="#fff"/>
<rect x="1348" y="255" width="1" height="51" fill="#000"/>
<rect x="1346" y="266" width="5" height="40" fill="#000"/>
<rect x="1356" y="291" width="1" height="35" fill="#000"/>
<rect x="1354" y="305" width="5" height="14" fill="#000"/>
<rect x="1364" y="314" width="1" height="16" fill="#000"/>
<rect x="1362" y="319" width="5" height="4" fill="#000"/>
<rect x="1372" y="318" width="1" height="13" fill="#000"/>
<rect x="1370" y="322" width="5" height="1" fill="#000"/>
<rect x="1380" y="303" width="1" height="25" fill="#000"/>
<rect x="1378" y="304" width="5" height="19" fill="#000"/>
<rect x="1379" y="305" width="3" height="17" fill="#fff"/>
<rect x="1388" y="263" width="1" height="44" fill="#000"/>
<rect x="1386" y="274" width="5" height="31" fill="#000"/>
<rect x="1387" y="275" width="3" height="29" fill="#fff"/>
<rect x="1396" y="205" width="1" height="130" fill="#000"/>
<rect x="1394" y="217" width="5" height="58" fill="#000"/>
<rect x="1395" y="218" width="3" height="56" fill="#fff"/>
<rect x="1404" y="181" width="1" height="94" fill="#000"/>
<rect x="1402" y="217" width="5" height="54" fill="#000"/>
<rect x="1412" y="268" width="1" height="43" fill="#000"/>
<rect x="1410" y="270" width="5" height="31" fill="#000"/>
<rect x="1420" y="292" width="1" height="30" fill="#000"/>
<rect x="1418" y="298" width="5" height="16" fill="#000"/>
<rect x="1428" y="308" width="1" height="37" fill="#000"/>
<rect x="1426" y="314" width="5" height="5" fill="#000"/>
<rect x="1436" y="284" width="1" height="54" fill="#000"/>
<rect x="1434" y="284" width="5" height="36" fill="#000"/>
<rect x="1435" y="285" width="3" height="34" fill="#fff"/>
<rect x="1444" y="224" width="1" height="63" fill="#000"/>
<rect x="1442" y="233" width="5" height="50" fill="#000"/>
<rect x="1443" y="234" width="3" height="48" fill="#fff"/>
<rect x="1452" y="229" width="1" height="82" fill="#000"/>
<rect x="1450" y="233" width="5" height="67" fill="#000"/>
</g>
<rect x="1085.5" y="192.5" width="61.0" height="18.0" fill="#fff" stroke="#ff0000" stroke-width="1" shape-rendering="crispEdges"/>
<text x="1116.2" y="208.0" font-size="16.5" fill="#ff0000" text-anchor="middle" textLength="57.0" lengthAdjust="spacingAndGlyphs">1.36269</text>
<rect x="1147" y="201" width="9" height="1" fill="#ff0000" shape-rendering="crispEdges"/>
<rect x="1333.5" y="172.5" width="61.0" height="18.0" fill="#fff" stroke="#ff0000" stroke-width="1" shape-rendering="crispEdges"/>
<text x="1364.2" y="188.0" font-size="16.5" fill="#ff0000" text-anchor="middle" textLength="57.0" lengthAdjust="spacingAndGlyphs">1.36427</text>
<rect x="1395" y="181" width="9" height="1" fill="#ff0000" shape-rendering="crispEdges"/>
<rect x="1133.5" y="348.5" width="61.0" height="18.0" fill="#fff" stroke="#ff0000" stroke-width="1" shape-rendering="crispEdges"/>
<text x="1164.2" y="364.0" font-size="16.5" fill="#ff0000" text-anchor="middle" textLength="57.0" lengthAdjust="spacingAndGlyphs">1.35039</text>
<rect x="1195" y="357" width="9" height="1" fill="#ff0000" shape-rendering="crispEdges"/>
<rect x="1173.5" y="367.5" width="61.0" height="18.0" fill="#fff" stroke="#ff0000" stroke-width="1" shape-rendering="crispEdges"/>
<text x="1204.2" y="383.0" font-size="16.5" fill="#ff0000" text-anchor="middle" textLength="57.0" lengthAdjust="spacingAndGlyphs">1.34889</text>
<rect x="1235" y="376" width="9" height="1" fill="#ff0000" shape-rendering="crispEdges"/>
<rect x="1352" y="271" width="140" height="7" fill="#00ff00" shape-rendering="crispEdges"/>
<line x1="1261.0" y1="354.0" x2="1395.6" y2="206.8" stroke="#ff0000" stroke-width="3" stroke-linecap="butt"/>
<polygon points="1400.0,202.0 1396.6,212.4 1394.9,207.5 1389.9,206.3" fill="#ff0000"/>
<line x1="1400.0" y1="203.0" x2="1426.7" y2="331.6" stroke="#ff0000" stroke-width="3" stroke-linecap="butt"/>
<polygon points="1428.0,338.0 1421.6,329.1 1426.5,330.7 1430.4,327.3" fill="#ff0000"/>
<line x1="1428.0" y1="338.0" x2="1444.9" y2="235.4" stroke="#ff0000" stroke-width="3" stroke-linecap="butt"/>
<polygon points="1446.0,229.0 1448.8,239.6 1444.8,236.4 1439.9,238.1" fill="#ff0000"/>
<line x1="1446.0" y1="230.0" x2="1462.6" y2="302.7" stroke="#ff0000" stroke-width="3" stroke-linecap="butt"/>
<polygon points="1464.0,309.0 1457.4,300.2 1462.3,301.7 1466.2,298.3" fill="#ff0000"/>
<g shape-rendering="crispEdges">
<rect x="4" y="605" width="1" height="66" fill="#c0c0c0"/>
<rect x="12" y="604" width="1" height="67" fill="#c0c0c0"/>
<rect x="20" y="606" width="1" height="65" fill="#c0c0c0"/>
<rect x="28" y="611" width="1" height="60" fill="#c0c0c0"/>
<rect x="36" y="615" width="1" height="56" fill="#c0c0c0"/>
<rect x="44" y="618" width="1" height="53" fill="#c0c0c0"/>
<rect x="52" y="632" width="1" height="39" fill="#c0c0c0"/>
<rect x="60" y="637" width="1" height="34" fill="#c0c0c0"/>
<rect x="68" y="641" width="1" height="30" fill="#c0c0c0"/>
<rect x="76" y="648" width="1" height="23" fill="#c0c0c0"/>
<rect x="84" y="650" width="1" height="21" fill="#c0c0c0"/>
<rect x="92" y="650" width="1" height="21" fill="#c0c0c0"/>
<rect x="100" y="640" width="1" height="31" fill="#c0c0c0"/>
<rect x="108" y="636" width="1" height="35" fill="#c0c0c0"/>
<rect x="116" y="634" width="1" height="37" fill="#c0c0c0"/>
<rect x="124" y="633" width="1" height="38" fill="#c0c0c0"/>
<rect x="132" y="631" width="1" height="40" fill="#c0c0c0"/>
<rect x="140" y="630" width="1" height="41" fill="#c0c0c0"/>
<rect x="148" y="625" width="1" height="46" fill="#c0c0c0"/>
<rect x="156" y="622" width="1" height="49" fill="#c0c0c0"/>
<rect x="164" y="622" width="1" height="49" fill="#c0c0c0"/>
<rect x="172" y="625" width="1" height="46" fill="#c0c0c0"/>
<rect x="180" y="635" width="1" height="36" fill="#c0c0c0"/>
<rect x="188" y="636" width="1" height="35" fill="#c0c0c0"/>
<rect x="196" y="640" width="1" height="31" fill="#c0c0c0"/>
<rect x="204" y="643" width="1" height="28" fill="#c0c0c0"/>
<rect x="212" y="645" width="1" height="26" fill="#c0c0c0"/>
<rect x="220" y="643" width="1" height="28" fill="#c0c0c0"/>
<rect x="228" y="644" width="1" height="27" fill="#c0c0c0"/>
<rect x="236" y="643" width="1" height="28" fill="#c0c0c0"/>
<rect x="244" y="639" width="1" height="32" fill="#c0c0c0"/>
<rect x="252" y="632" width="1" height="39" fill="#c0c0c0"/>
<rect x="260" y="628" width="1" height="43" fill="#c0c0c0"/>
<rect x="268" y="626" width="1" height="45" fill="#c0c0c0"/>
<rect x="276" y="625" width="1" height="46" fill="#c0c0c0"/>
<rect x="284" y="625" width="1" height="46" fill="#c0c0c0"/>
<rect x="292" y="630" width="1" height="41" fill="#c0c0c0"/>
<rect x="300" y="632" width="1" height="39" fill="#c0c0c0"/>
<rect x="308" y="633" width="1" height="38" fill="#c0c0c0"/>
<rect x="316" y="632" width="1" height="39" fill="#c0c0c0"/>
<rect x="324" y="630" width="1" height="41" fill="#c0c0c0"/>
<rect x="332" y="632" width="1" height="39" fill="#c0c0c0"/>
<rect x="340" y="630" width="1" height="41" fill="#c0c0c0"/>
<rect x="348" y="625" width="1" height="46" fill="#c0c0c0"/>
<rect x="356" y="621" width="1" height="50" fill="#c0c0c0"/>
<rect x="364" y="616" width="1" height="55" fill="#c0c0c0"/>
<rect x="372" y="615" width="1" height="56" fill="#c0c0c0"/>
<rect x="380" y="615" width="1" height="56" fill="#c0c0c0"/>
<rect x="388" y="606" width="1" height="65" fill="#c0c0c0"/>
<rect x="396" y="595" width="1" height="76" fill="#c0c0c0"/>
<rect x="404" y="588" width="1" height="83" fill="#c0c0c0"/>
<rect x="412" y="583" width="1" height="88" fill="#c0c0c0"/>
<rect x="420" y="577" width="1" height="94" fill="#c0c0c0"/>
<rect x="428" y="573" width="1" height="98" fill="#c0c0c0"/>
<rect x="436" y="570" width="1" height="101" fill="#c0c0c0"/>
<rect x="444" y="572" width="1" height="99" fill="#c0c0c0"/>
<rect x="452" y="575" width="1" height="96" fill="#c0c0c0"/>
<rect x="460" y="577" width="1" height="94" fill="#c0c0c0"/>
<rect x="468" y="580" width="1" height="91" fill="#c0c0c0"/>
<rect x="476" y="584" width="1" height="87" fill="#c0c0c0"/>
<rect x="484" y="594" width="1" height="77" fill="#c0c0c0"/>
<rect x="492" y="604" width="1" height="67" fill="#c0c0c0"/>
<rect x="500" y="614" width="1" height="57" fill="#c0c0c0"/>
<rect x="508" y="621" width="1" height="50" fill="#c0c0c0"/>
<rect x="516" y="626" width="1" height="45" fill="#c0c0c0"/>
<rect x="524" y="635" width="1" height="36" fill="#c0c0c0"/>
<rect x="532" y="644" width="1" height="27" fill="#c0c0c0"/>
<rect x="540" y="652" width="1" height="19" fill="#c0c0c0"/>
<rect x="548" y="659" width="1" height="12" fill="#c0c0c0"/>
<rect x="556" y="667" width="1" height="4" fill="#c0c0c0"/>
<rect x="572" y="670" width="1" height="11" fill="#c0c0c0"/>
<rect x="580" y="670" width="1" height="23" fill="#c0c0c0"/>
<rect x="588" y="670" width="1" height="29" fill="#c0c0c0"/>
<rect x="596" y="670" width="1" height="33" fill="#c0c0c0"/>
<rect x="604" y="670" width="1" height="35" fill="#c0c0c0"/>
<rect x="612" y="670" width="1" height="39" fill="#c0c0c0"/>
<rect x="620" y="670" width="1" height="35" fill="#c0c0c0"/>
<rect x="628" y="670" width="1" height="31" fill="#c0c0c0"/>
<rect x="636" y="670" width="1" height="27" fill="#c0c0c0"/>
<rect x="644" y="670" width="1" height="29" fill="#c0c0c0"/>
<rect x="652" y="670" width="1" height="25" fill="#c0c0c0"/>
<rect x="660" y="670" width="1" height="23" fill="#c0c0c0"/>
<rect x="668" y="670" width="1" height="23" fill="#c0c0c0"/>
<rect x="676" y="670" width="1" height="15" fill="#c0c0c0"/>
<rect x="684" y="670" width="1" height="17" fill="#c0c0c0"/>
<rect x="692" y="670" width="1" height="19" fill="#c0c0c0"/>
<rect x="700" y="670" width="1" height="23" fill="#c0c0c0"/>
<rect x="708" y="670" width="1" height="29" fill="#c0c0c0"/>
<rect x="716" y="670" width="1" height="35" fill="#c0c0c0"/>
<rect x="724" y="670" width="1" height="41" fill="#c0c0c0"/>
<rect x="732" y="670" width="1" height="45" fill="#c0c0c0"/>
<rect x="740" y="670" width="1" height="47" fill="#c0c0c0"/>
<rect x="748" y="670" width="1" height="49" fill="#c0c0c0"/>
<rect x="756" y="670" width="1" height="51" fill="#c0c0c0"/>
<rect x="764" y="670" width="1" height="63" fill="#c0c0c0"/>
<rect x="772" y="670" width="1" height="75" fill="#c0c0c0"/>
<rect x="780" y="670" width="1" height="81" fill="#c0c0c0"/>
<rect x="788" y="670" width="1" height="83" fill="#c0c0c0"/>
<rect x="796" y="670" width="1" height="87" fill="#c0c0c0"/>
<rect x="804" y="670" width="1" height="87" fill="#c0c0c0"/>
<rect x="812" y="670" width="1" height="93" fill="#c0c0c0"/>
<rect x="820" y="670" width="1" height="89" fill="#c0c0c0"/>
<rect x="828" y="670" width="1" height="79" fill="#c0c0c0"/>
<rect x="836" y="670" width="1" height="73" fill="#c0c0c0"/>
<rect x="844" y="670" width="1" height="67" fill="#c0c0c0"/>
<rect x="852" y="670" width="1" height="63" fill="#c0c0c0"/>
<rect x="860" y="670" width="1" height="57" fill="#c0c0c0"/>
<rect x="868" y="670" width="1" height="51" fill="#c0c0c0"/>
<rect x="876" y="670" width="1" height="55" fill="#c0c0c0"/>
<rect x="884" y="670" width="1" height="57" fill="#c0c0c0"/>
<rect x="892" y="670" width="1" height="62" fill="#c0c0c0"/>
<rect x="900" y="670" width="1" height="71" fill="#c0c0c0"/>
<rect x="908" y="670" width="1" height="81" fill="#c0c0c0"/>
<rect x="916" y="670" width="1" height="87" fill="#c0c0c0"/>
<rect x="924" y="670" width="1" height="95" fill="#c0c0c0"/>
<rect x="932" y="670" width="1" height="97" fill="#c0c0c0"/>
<rect x="940" y="670" width="1" height="95" fill="#c0c0c0"/>
<rect x="948" y="670" width="1" height="95" fill="#c0c0c0"/>
<rect x="956" y="670" width="1" height="93" fill="#c0c0c0"/>
<rect x="964" y="670" width="1" height="87" fill="#c0c0c0"/>
<rect x="972" y="670" width="1" height="85" fill="#c0c0c0"/>
<rect x="980" y="670" width="1" height="81" fill="#c0c0c0"/>
<rect x="988" y="670" width="1" height="75" fill="#c0c0c0"/>
<rect x="996" y="670" width="1" height="65" fill="#c0c0c0"/>
<rect x="1004" y="670" width="1" height="61" fill="#c0c0c0"/>
<rect x="1012" y="670" width="1" height="57" fill="#c0c0c0"/>
<rect x="1020" y="670" width="1" height="45" fill="#c0c0c0"/>
<rect x="1028" y="670" width="1" height="37" fill="#c0c0c0"/>
<rect x="1036" y="670" width="1" height="31" fill="#c0c0c0"/>
<rect x="1044" y="670" width="1" height="19" fill="#c0c0c0"/>
<rect x="1052" y="670" width="1" height="7" fill="#c0c0c0"/>
<rect x="1060" y="667" width="1" height="4" fill="#c0c0c0"/>
<rect x="1068" y="656" width="1" height="15" fill="#c0c0c0"/>
<rect x="1076" y="646" width="1" height="25" fill="#c0c0c0"/>
<rect x="1084" y="640" width="1" height="31" fill="#c0c0c0"/>
<rect x="1092" y="632" width="1" height="39" fill="#c0c0c0"/>
<rect x="1100" y="622" width="1" height="49" fill="#c0c0c0"/>
<rect x="1108" y="614" width="1" height="57" fill="#c0c0c0"/>
<rect x="1116" y="605" width="1" height="66" fill="#c0c0c0"/>
<rect x="1124" y="602" width="1" height="69" fill="#c0c0c0"/>
<rect x="1132" y="601" width="1" height="70" fill="#c0c0c0"/>
<rect x="1140" y="602" width="1" height="69" fill="#c0c0c0"/>
<rect x="1148" y="602" width="1" height="69" fill="#c0c0c0"/>
<rect x="1156" y="595" width="1" height="76" fill="#c0c0c0"/>
<rect x="1164" y="595" width="1" height="76" fill="#c0c0c0"/>
<rect x="1172" y="593" width="1" height="78" fill="#c0c0c0"/>
<rect x="1180" y="591" width="1" height="80" fill="#c0c0c0"/>
<rect x="1188" y="596" width="1" height="75" fill="#c0c0c0"/>
<rect x="1196" y="601" width="1" height="70" fill="#c0c0c0"/>
<rect x="1204" y="613" width="1" height="58" fill="#c0c0c0"/>
<rect x="1212" y="624" width="1" height="47" fill="#c0c0c0"/>
<rect x="1220" y="632" width="1" height="39" fill="#c0c0c0"/>
<rect x="1228" y="641" width="1" height="30" fill="#c0c0c0"/>
<rect x="1236" y="645" width="1" height="26" fill="#c0c0c0"/>
<rect x="1244" y="653" width="1" height="18" fill="#c0c0c0"/>
<rect x="1252" y="657" width="1" height="14" fill="#c0c0c0"/>
<rect x="1260" y="659" width="1" height="12" fill="#c0c0c0"/>
<rect x="1268" y="661" width="1" height="10" fill="#c0c0c0"/>
<rect x="1276" y="662" width="1" height="9" fill="#c0c0c0"/>
<rect x="1284" y="666" width="1" height="5" fill="#c0c0c0"/>
<rect x="1292" y="665" width="1" height="6" fill="#c0c0c0"/>
<rect x="1300" y="662" width="1" height="9" fill="#c0c0c0"/>
<rect x="1308" y="662" width="1" height="9" fill="#c0c0c0"/>
<rect x="1316" y="662" width="1" height="9" fill="#c0c0c0"/>
<rect x="1324" y="660" width="1" height="11" fill="#c0c0c0"/>
<rect x="1332" y="659" width="1" height="12" fill="#c0c0c0"/>
<rect x="1340" y="655" width="1" height="16" fill="#c0c0c0"/>
<rect x="1348" y="657" width="1" height="14" fill="#c0c0c0"/>
<rect x="1356" y="660" width="1" height="11" fill="#c0c0c0"/>
<rect x="1364" y="664" width="1" height="7" fill="#c0c0c0"/>
<rect x="1372" y="667" width="1" height="4" fill="#c0c0c0"/>
<rect x="1380" y="666" width="1" height="5" fill="#c0c0c0"/>
<rect x="1388" y="662" width="1" height="9" fill="#c0c0c0"/>
<rect x="1396" y="651" width="1" height="20" fill="#c0c0c0"/>
<rect x="1404" y="650" width="1" height="21" fill="#c0c0c0"/>
<rect x="1412" y="656" width="1" height="15" fill="#c0c0c0"/>
<rect x="1420" y="658" width="1" height="13" fill="#c0c0c0"/>
<rect x="1428" y="663" width="1" height="8" fill="#c0c0c0"/>
<rect x="1436" y="662" width="1" height="9" fill="#c0c0c0"/>
<rect x="1444" y="655" width="1" height="16" fill="#c0c0c0"/>
<rect x="1452" y="656" width="1" height="15" fill="#c0c0c0"/>
</g>
<path d="M470 576h1v1h-1zM474 576h3v1h-3zM480 576h2v1h-2zM464 577h1v1h-1zM468 577h2v1h-2zM482 577h1v1h-1zM462 578h2v1h-2zM486 578h3v1h-3zM457 579h2v1h-2zM456 580h1v1h-1zM492 580h1v1h-1zM452 581h1v1h-1zM493 581h1v1h-1zM450 582h2v1h-2zM494 582h1v1h-1zM446 584h1v1h-1zM498 584h2v1h-2zM445 585h1v1h-1zM500 585h1v1h-1zM444 586h1v1h-1zM440 588h1v1h-1zM504 588h1v1h-1zM439 589h1v1h-1zM505 589h2v1h-2zM438 590h1v1h-1zM510 592h1v1h-1zM433 593h2v1h-2zM511 593h1v1h-1zM432 594h1v1h-1zM512 594h1v1h-1zM428 596h1v1h-1zM1188 596h3v1h-3zM1194 596h3v1h-3zM1200 596h3v1h-3zM426 597h2v1h-2zM516 597h1v1h-1zM1183 597h2v1h-2zM1206 597h2v1h-2zM517 598h2v1h-2zM1182 598h1v1h-1zM1208 598h1v1h-1zM1176 599h3v1h-3zM1212 599h1v1h-1zM421 600h2v1h-2zM1172 600h1v1h-1zM1213 600h2v1h-2zM420 601h1v1h-1zM1170 601h2v1h-2zM522 602h2v1h-2zM1218 602h1v1h-1zM524 603h1v1h-1zM1164 603h3v1h-3zM1219 603h2v1h-2zM415 604h2v1h-2zM0 605h3v1h-3zM6 605h3v1h-3zM12 605h3v1h-3zM414 605h1v1h-1zM1160 605h1v1h-1zM18 606h3v1h-3zM24 606h3v1h-3zM528 606h1v1h-1zM1158 606h2v1h-2zM1224 606h1v1h-1zM30 607h3v1h-3zM36 607h3v1h-3zM529 607h1v1h-1zM1225 607h2v1h-2zM42 608h3v1h-3zM409 608h2v1h-2zM530 608h1v1h-1zM408 609h1v1h-1zM1154 609h1v1h-1zM48 610h2v1h-2zM1153 610h1v1h-1zM1230 610h1v1h-1zM50 611h1v1h-1zM403 611h2v1h-2zM1152 611h1v1h-1zM1231 611h1v1h-1zM402 612h1v1h-1zM534 612h1v1h-1zM1232 612h1v1h-1zM54 613h3v1h-3zM535 613h2v1h-2zM1147 613h2v1h-2zM1146 614h1v1h-1zM60 615h2v1h-2zM398 615h1v1h-1zM1236 615h1v1h-1zM62 616h1v1h-1zM396 616h2v1h-2zM1141 616h2v1h-2zM1237 616h2v1h-2zM540 617h1v1h-1zM1140 617h1v1h-1zM66 618h2v1h-2zM541 618h1v1h-1zM68 619h1v1h-1zM391 619h2v1h-2zM542 619h1v1h-1zM390 620h1v1h-1zM1136 620h1v1h-1zM1242 620h1v1h-1zM72 621h2v1h-2zM385 621h2v1h-2zM1135 621h1v1h-1zM1243 621h1v1h-1zM74 622h1v1h-1zM384 622h1v1h-1zM1134 622h1v1h-1zM1244 622h1v1h-1zM379 623h2v1h-2zM546 623h1v1h-1zM78 624h2v1h-2zM378 624h1v1h-1zM547 624h1v1h-1zM80 625h1v1h-1zM372 625h3v1h-3zM548 625h1v1h-1zM1130 625h1v1h-1zM1248 625h1v1h-1zM368 626h1v1h-1zM1129 626h1v1h-1zM1249 626h1v1h-1zM84 627h1v1h-1zM366 627h2v1h-2zM1128 627h1v1h-1zM1250 627h1v1h-1zM85 628h1v1h-1zM170 628h1v1h-1zM174 628h3v1h-3zM180 628h3v1h-3zM186 628h3v1h-3zM192 628h3v1h-3zM313 628h2v1h-2zM318 628h3v1h-3zM324 628h3v1h-3zM330 628h3v1h-3zM336 628h1v1h-1zM355 628h2v1h-2zM360 628h3v1h-3zM86 629h1v1h-1zM164 629h1v1h-1zM168 629h2v1h-2zM198 629h3v1h-3zM308 629h1v1h-1zM312 629h1v1h-1zM337 629h2v1h-2zM348 629h3v1h-3zM354 629h1v1h-1zM552 629h1v1h-1zM162 630h2v1h-2zM204 630h3v1h-3zM306 630h2v1h-2zM342 630h3v1h-3zM553 630h1v1h-1zM90 631h2v1h-2zM300 631h3v1h-3zM554 631h1v1h-1zM1124 631h1v1h-1zM1254 631h1v1h-1zM92 632h1v1h-1zM157 632h2v1h-2zM210 632h3v1h-3zM290 632h1v1h-1zM294 632h3v1h-3zM1123 632h1v1h-1zM1255 632h2v1h-2zM96 633h1v1h-1zM156 633h1v1h-1zM216 633h1v1h-1zM284 633h1v1h-1zM288 633h2v1h-2zM1122 633h1v1h-1zM97 634h2v1h-2zM152 634h1v1h-1zM217 634h2v1h-2zM282 634h2v1h-2zM150 635h2v1h-2zM222 635h2v1h-2zM277 635h2v1h-2zM558 635h1v1h-1zM102 636h2v1h-2zM224 636h1v1h-1zM276 636h1v1h-1zM559 636h1v1h-1zM1260 636h1v1h-1zM104 637h1v1h-1zM140 637h1v1h-1zM144 637h3v1h-3zM228 637h3v1h-3zM270 637h3v1h-3zM560 637h1v1h-1zM1118 637h1v1h-1zM1261 637h1v1h-1zM108 638h2v1h-2zM133 638h2v1h-2zM138 638h2v1h-2zM234 638h3v1h-3zM264 638h3v1h-3zM1117 638h1v1h-1zM1262 638h1v1h-1zM110 639h1v1h-1zM128 639h1v1h-1zM132 639h1v1h-1zM240 639h3v1h-3zM258 639h3v1h-3zM1116 639h1v1h-1zM114 640h3v1h-3zM120 640h3v1h-3zM126 640h2v1h-2zM246 640h3v1h-3zM252 640h3v1h-3zM564 641h1v1h-1zM1266 641h1v1h-1zM565 642h1v1h-1zM1267 642h2v1h-2zM566 643h1v1h-1zM1113 643h1v1h-1zM1112 644h1v1h-1zM1111 645h1v1h-1zM1272 645h1v1h-1zM1273 646h2v1h-2zM570 647h1v1h-1zM571 648h1v1h-1zM572 649h1v1h-1zM1108 649h1v1h-1zM1278 649h2v1h-2zM1107 650h1v1h-1zM1280 650h1v1h-1zM1106 651h1v1h-1zM1284 652h3v1h-3zM576 653h1v1h-1zM577 654h1v1h-1zM1290 654h2v1h-2zM578 655h1v1h-1zM1104 655h1v1h-1zM1292 655h1v1h-1zM1103 656h1v1h-1zM1296 656h1v1h-1zM1448 656h1v1h-1zM1102 657h1v1h-1zM1297 657h2v1h-2zM1446 657h2v1h-2zM1302 658h1v1h-1zM1358 658h1v1h-1zM1362 658h1v1h-1zM1405 658h2v1h-2zM1410 658h3v1h-3zM1416 658h3v1h-3zM1422 658h3v1h-3zM1428 658h3v1h-3zM1434 658h3v1h-3zM1440 658h3v1h-3zM582 659h1v1h-1zM1303 659h2v1h-2zM1356 659h2v1h-2zM1363 659h2v1h-2zM1398 659h3v1h-3zM1404 659h1v1h-1zM583 660h1v1h-1zM1308 660h3v1h-3zM1314 660h1v1h-1zM1345 660h2v1h-2zM1350 660h3v1h-3zM1368 660h3v1h-3zM1374 660h3v1h-3zM1380 660h3v1h-3zM1386 660h3v1h-3zM1392 660h3v1h-3zM584 661h1v1h-1zM1099 661h1v1h-1zM1315 661h2v1h-2zM1320 661h3v1h-3zM1326 661h3v1h-3zM1332 661h3v1h-3zM1338 661h3v1h-3zM1344 661h1v1h-1zM1098 662h1v1h-1zM1097 663h1v1h-1zM588 665h1v1h-1zM589 666h1v1h-1zM590 667h1v1h-1zM1094 667h1v1h-1zM1093 668h1v1h-1zM1092 669h1v1h-1zM594 671h1v1h-1zM595 672h2v1h-2zM1088 673h1v1h-1zM1087 674h1v1h-1zM1086 675h1v1h-1zM600 676h1v1h-1zM601 677h1v1h-1zM602 678h1v1h-1zM1083 679h1v1h-1zM1082 680h1v1h-1zM606 681h2v1h-2zM1081 681h1v1h-1zM608 682h1v1h-1zM1077 685h1v1h-1zM612 686h1v2h-1zM1076 686h1v1h-1zM1075 687h1v1h-1zM613 688h1v1h-1zM617 691h2v1h-2zM1072 691h1v1h-1zM619 692h1v1h-1zM697 692h1v1h-1zM701 692h3v1h-3zM1071 692h1v1h-1zM623 693h1v1h-1zM689 693h3v1h-3zM695 693h2v1h-2zM707 693h3v1h-3zM713 693h3v1h-3zM1070 693h1v1h-1zM624 694h2v1h-2zM683 694h3v1h-3zM719 694h3v1h-3zM725 695h1v1h-1zM629 696h1v1h-1zM678 696h2v1h-2zM726 696h2v1h-2zM630 697h2v1h-2zM677 697h1v1h-1zM731 697h1v1h-1zM1067 697h1v1h-1zM672 698h2v1h-2zM732 698h2v1h-2zM1066 698h1v1h-1zM635 699h3v1h-3zM666 699h2v1h-2zM671 699h1v1h-1zM737 699h2v1h-2zM1065 699h1v1h-1zM641 700h3v1h-3zM659 700h3v1h-3zM665 700h1v1h-1zM739 700h1v1h-1zM647 701h3v1h-3zM653 701h3v1h-3zM743 701h1v1h-1zM744 702h2v1h-2zM1062 703h1v1h-1zM749 704h2v1h-2zM1061 704h1v1h-1zM751 705h1v1h-1zM1060 705h1v1h-1zM755 707h1v1h-1zM756 708h2v1h-2zM1056 709h1v1h-1zM1055 710h1v2h-1zM761 711h2v1h-2zM763 712h1v1h-1zM767 714h1v1h-1zM768 715h2v1h-2zM1051 715h1v1h-1zM1050 716h1v1h-1zM1049 717h1v1h-1zM773 718h1v1h-1zM774 719h1v1h-1zM775 720h1v1h-1zM1045 720h1v1h-1zM1044 721h1v1h-1zM779 722h1v1h-1zM1043 722h1v1h-1zM780 723h1v1h-1zM781 724h1v1h-1zM1039 725h1v1h-1zM1037 726h2v1h-2zM785 727h2v1h-2zM787 728h1v1h-1zM1032 730h2v1h-2zM791 731h2v1h-2zM1031 731h1v1h-1zM793 732h1v1h-1zM895 732h1v1h-1zM899 732h3v1h-3zM889 733h1v1h-1zM893 733h2v1h-2zM905 733h3v1h-3zM911 733h1v1h-1zM797 734h1v1h-1zM887 734h2v1h-2zM912 734h2v1h-2zM798 735h2v1h-2zM882 735h2v1h-2zM1027 735h1v1h-1zM881 736h1v1h-1zM917 736h2v1h-2zM1026 736h1v1h-1zM919 737h1v1h-1zM1025 737h1v1h-1zM876 738h2v1h-2zM803 739h2v1h-2zM875 739h1v1h-1zM923 739h2v1h-2zM805 740h1v1h-1zM925 740h1v1h-1zM871 741h1v1h-1zM1021 741h1v1h-1zM809 742h1v1h-1zM869 742h2v1h-2zM929 742h2v1h-2zM1020 742h1v1h-1zM810 743h1v1h-1zM931 743h1v1h-1zM1019 743h1v1h-1zM811 744h1v1h-1zM864 744h2v1h-2zM863 745h1v1h-1zM935 745h1v1h-1zM1015 745h1v1h-1zM815 746h2v1h-2zM859 746h1v1h-1zM936 746h2v1h-2zM1013 746h2v1h-2zM817 747h1v1h-1zM857 747h2v1h-2zM821 748h1v1h-1zM852 748h2v1h-2zM822 749h2v1h-2zM851 749h1v1h-1zM941 749h2v1h-2zM1008 749h2v1h-2zM845 750h3v1h-3zM943 750h1v1h-1zM1007 750h1v1h-1zM827 751h3v1h-3zM840 751h2v1h-2zM833 752h3v1h-3zM839 752h1v1h-1zM947 752h2v1h-2zM1003 752h1v1h-1zM949 753h1v1h-1zM1001 753h2v1h-2zM953 754h1v1h-1zM954 755h2v1h-2zM997 755h1v1h-1zM995 756h2v1h-2zM959 757h3v1h-3zM989 758h3v1h-3zM965 759h3v1h-3zM983 759h3v1h-3zM971 760h3v1h-3zM977 760h3v1h-3z" fill="#ff0000" shape-rendering="crispEdges"/>
<line x1="1353.5" y1="657.8" x2="1450.0" y2="653.8" stroke="#ff0000" stroke-width="3.2" stroke-linecap="butt"/>
<polygon points="1458.5,653.4 1446.7,658.9 1449.0,653.8 1446.3,648.9" fill="#ff0000"/>
<g shape-rendering="crispEdges">
<line x1="1" y1="809.5" x2="1647" y2="809.5" stroke="#c0c0c0" stroke-width="1" stroke-dasharray="3,3"/>
<line x1="1" y1="851.5" x2="1647" y2="851.5" stroke="#c0c0c0" stroke-width="1" stroke-dasharray="3,3"/>
<line x1="1" y1="900.5" x2="1647" y2="900.5" stroke="#c0c0c0" stroke-width="1" stroke-dasharray="3,3"/>
</g>
<path d="M419 812h3v1h-3zM417 813h2v1h-2zM422 813h4v1h-4zM432 813h5v1h-5zM395 814h2v1h-2zM415 814h2v1h-2zM426 814h6v1h-6zM437 814h1v1h-1zM393 815h2v1h-2zM397 815h2v1h-2zM413 815h2v1h-2zM438 815h1v1h-1zM391 816h2v1h-2zM399 816h2v1h-2zM410 816h3v1h-3zM439 816h1v1h-1zM389 817h2v1h-2zM401 817h2v1h-2zM406 817h4v1h-4zM440 817h1v1h-1zM388 818h1v1h-1zM403 818h3v1h-3zM441 818h1v1h-1zM387 819h1v2h-1zM442 819h1v1h-1zM443 820h1v1h-1zM1115 820h2v1h-2zM1156 820h1v1h-1zM386 821h1v1h-1zM444 821h1v1h-1zM460 821h2v1h-2zM1113 821h2v1h-2zM1117 821h1v1h-1zM1155 821h1v1h-1zM1157 821h1v1h-1zM385 822h1v2h-1zM445 822h2v1h-2zM458 822h2v1h-2zM462 822h4v1h-4zM1111 822h2v1h-2zM1118 822h1v1h-1zM1154 822h1v2h-1zM1158 822h1v1h-1zM363 823h2v1h-2zM447 823h1v1h-1zM456 823h2v1h-2zM466 823h3v1h-3zM1109 823h2v1h-2zM1119 823h1v1h-1zM1159 823h1v1h-1zM4 824h1v2h-1zM360 824h3v1h-3zM365 824h1v1h-1zM384 824h1v1h-1zM448 824h2v1h-2zM455 824h1v1h-1zM469 824h2v1h-2zM1100 824h9v1h-9zM1120 824h1v2h-1zM1153 824h1v1h-1zM1160 824h1v2h-1zM5 825h2v1h-2zM358 825h2v1h-2zM366 825h1v1h-1zM383 825h1v2h-1zM450 825h2v1h-2zM453 825h2v1h-2zM471 825h2v1h-2zM1098 825h2v1h-2zM1152 825h1v1h-1zM1178 825h3v1h-3zM3 826h1v2h-1zM7 826h1v1h-1zM354 826h4v1h-4zM367 826h1v1h-1zM452 826h1v1h-1zM473 826h2v1h-2zM1097 826h1v1h-1zM1121 826h1v1h-1zM1151 826h1v1h-1zM1161 826h1v1h-1zM1174 826h4v1h-4zM1181 826h1v2h-1zM8 827h2v1h-2zM350 827h4v1h-4zM368 827h1v2h-1zM382 827h1v1h-1zM475 827h2v1h-2zM1096 827h1v1h-1zM1122 827h1v1h-1zM1150 827h1v2h-1zM1162 827h1v1h-1zM1170 827h4v1h-4zM2 828h1v3h-1zM10 828h2v1h-2zM348 828h2v1h-2zM381 828h1v2h-1zM476 828h1v1h-1zM1094 828h2v1h-2zM1123 828h1v1h-1zM1163 828h1v1h-1zM1166 828h4v1h-4zM1182 828h1v1h-1zM1396 828h1v2h-1zM12 829h1v1h-1zM346 829h2v1h-2zM369 829h1v1h-1zM477 829h1v2h-1zM1093 829h1v1h-1zM1124 829h10v1h-10zM1149 829h1v1h-1zM1164 829h2v1h-2zM1183 829h1v1h-1zM1395 829h1v2h-1zM13 830h2v1h-2zM252 830h2v1h-2zM345 830h1v1h-1zM370 830h1v1h-1zM378 830h3v1h-3zM1091 830h2v1h-2zM1134 830h4v1h-4zM1144 830h5v1h-5zM1184 830h1v2h-1zM1397 830h1v2h-1zM1 831h1v2h-1zM15 831h1v1h-1zM148 831h2v1h-2zM250 831h2v1h-2zM254 831h4v1h-4zM344 831h1v1h-1zM371 831h1v1h-1zM374 831h4v1h-4zM478 831h1v2h-1zM1072 831h6v1h-6zM1089 831h2v1h-2zM1138 831h6v1h-6zM1394 831h1v2h-1zM16 832h2v1h-2zM146 832h2v1h-2zM150 832h2v1h-2zM248 832h2v1h-2zM258 832h3v1h-3zM342 832h2v1h-2zM372 832h2v1h-2zM1067 832h5v1h-5zM1078 832h2v1h-2zM1087 832h2v1h-2zM1185 832h1v1h-1zM1398 832h1v2h-1zM0 833h1v2h-1zM18 833h2v1h-2zM100 833h1v1h-1zM145 833h1v1h-1zM152 833h3v1h-3zM247 833h1v1h-1zM261 833h2v1h-2zM322 833h3v1h-3zM341 833h1v1h-1zM479 833h1v2h-1zM1064 833h3v1h-3zM1080 833h3v1h-3zM1085 833h2v1h-2zM1186 833h1v1h-1zM1393 833h1v1h-1zM20 834h1v1h-1zM99 834h1v2h-1zM101 834h1v1h-1zM144 834h1v1h-1zM155 834h3v1h-3zM245 834h2v1h-2zM263 834h2v1h-2zM274 834h4v1h-4zM318 834h4v1h-4zM325 834h1v1h-1zM340 834h1v1h-1zM1062 834h2v1h-2zM1083 834h2v1h-2zM1187 834h1v2h-1zM1392 834h1v2h-1zM1399 834h1v2h-1zM21 835h1v1h-1zM102 835h2v1h-2zM142 835h2v1h-2zM158 835h4v1h-4zM244 835h1v1h-1zM265 835h2v1h-2zM270 835h4v1h-4zM278 835h4v1h-4zM315 835h3v1h-3zM326 835h1v1h-1zM338 835h2v1h-2zM480 835h1v2h-1zM1059 835h3v1h-3zM22 836h1v1h-1zM98 836h1v2h-1zM104 836h1v1h-1zM141 836h1v1h-1zM162 836h3v1h-3zM242 836h2v1h-2zM267 836h3v1h-3zM282 836h3v1h-3zM313 836h2v1h-2zM327 836h1v1h-1zM337 836h1v1h-1zM1056 836h3v1h-3zM1188 836h1v1h-1zM1391 836h1v1h-1zM1400 836h1v2h-1zM23 837h1v1h-1zM105 837h1v1h-1zM138 837h3v1h-3zM165 837h1v1h-1zM241 837h1v1h-1zM285 837h1v1h-1zM311 837h2v1h-2zM328 837h2v1h-2zM336 837h1v1h-1zM481 837h1v2h-1zM1054 837h2v1h-2zM1189 837h2v1h-2zM1340 837h1v1h-1zM1390 837h1v2h-1zM1444 837h1v1h-1zM24 838h1v1h-1zM97 838h1v1h-1zM106 838h2v1h-2zM134 838h4v1h-4zM166 838h2v1h-2zM240 838h1v1h-1zM286 838h1v2h-1zM309 838h2v1h-2zM330 838h1v1h-1zM334 838h2v1h-2zM1051 838h3v1h-3zM1191 838h2v1h-2zM1339 838h1v1h-1zM1341 838h1v2h-1zM1401 838h1v2h-1zM1443 838h1v2h-1zM1445 838h1v2h-1zM25 839h1v1h-1zM42 839h3v1h-3zM96 839h1v2h-1zM108 839h4v1h-4zM120 839h14v1h-14zM168 839h1v1h-1zM238 839h2v1h-2zM307 839h2v1h-2zM331 839h1v1h-1zM333 839h1v1h-1zM482 839h1v2h-1zM1048 839h3v1h-3zM1193 839h2v1h-2zM1338 839h1v1h-1zM1389 839h1v2h-1zM26 840h1v1h-1zM38 840h4v1h-4zM44 840h1v1h-1zM112 840h8v1h-8zM169 840h1v1h-1zM237 840h1v1h-1zM287 840h1v1h-1zM304 840h3v1h-3zM332 840h1v1h-1zM1046 840h2v1h-2zM1195 840h2v1h-2zM1337 840h1v1h-1zM1342 840h1v2h-1zM1402 840h1v2h-1zM1442 840h1v1h-1zM1446 840h1v1h-1zM27 841h1v1h-1zM32 841h6v1h-6zM45 841h1v2h-1zM95 841h1v1h-1zM170 841h2v1h-2zM220 841h1v1h-1zM235 841h2v1h-2zM288 841h1v1h-1zM302 841h2v1h-2zM483 841h1v2h-1zM1044 841h2v1h-2zM1197 841h1v2h-1zM1336 841h1v1h-1zM1388 841h1v1h-1zM1441 841h1v1h-1zM1447 841h1v2h-1zM28 842h4v1h-4zM94 842h1v2h-1zM172 842h1v1h-1zM218 842h2v1h-2zM221 842h2v1h-2zM233 842h2v1h-2zM289 842h1v1h-1zM299 842h3v1h-3zM1043 842h1v1h-1zM1335 842h1v1h-1zM1343 842h1v1h-1zM1387 842h1v1h-1zM1403 842h1v2h-1zM1440 842h1v2h-1zM46 843h1v3h-1zM173 843h1v2h-1zM216 843h2v1h-2zM223 843h2v1h-2zM231 843h2v1h-2zM290 843h1v2h-1zM297 843h2v1h-2zM484 843h1v2h-1zM676 843h1v2h-1zM1042 843h1v2h-1zM1198 843h1v2h-1zM1323 843h3v1h-3zM1334 843h1v1h-1zM1344 843h1v2h-1zM1386 843h1v1h-1zM1448 843h1v1h-1zM93 844h1v2h-1zM188 844h2v1h-2zM215 844h1v1h-1zM225 844h2v1h-2zM229 844h2v1h-2zM295 844h2v1h-2zM485 844h1v1h-1zM514 844h3v1h-3zM677 844h1v2h-1zM1299 844h2v1h-2zM1321 844h2v1h-2zM1326 844h4v1h-4zM1333 844h1v1h-1zM1385 844h1v1h-1zM1404 844h1v2h-1zM1439 844h1v1h-1zM1449 844h1v2h-1zM174 845h1v2h-1zM187 845h1v2h-1zM190 845h2v1h-2zM213 845h2v1h-2zM227 845h2v1h-2zM291 845h1v1h-1zM293 845h2v1h-2zM486 845h2v1h-2zM510 845h4v1h-4zM517 845h1v2h-1zM675 845h1v2h-1zM1041 845h1v1h-1zM1199 845h1v1h-1zM1296 845h3v1h-3zM1301 845h2v1h-2zM1319 845h2v1h-2zM1330 845h3v1h-3zM1345 845h1v1h-1zM1384 845h1v2h-1zM1438 845h1v1h-1zM47 846h1v2h-1zM90 846h3v1h-3zM192 846h3v1h-3zM210 846h3v1h-3zM292 846h1v1h-1zM488 846h3v1h-3zM506 846h4v1h-4zM678 846h1v2h-1zM1020 846h1v1h-1zM1040 846h1v1h-1zM1200 846h1v2h-1zM1294 846h2v1h-2zM1303 846h1v1h-1zM1317 846h2v1h-2zM1346 846h1v2h-1zM1405 846h1v1h-1zM1437 846h1v2h-1zM1450 846h1v1h-1zM86 847h4v1h-4zM175 847h1v2h-1zM186 847h1v1h-1zM195 847h5v1h-5zM206 847h4v1h-4zM491 847h5v1h-5zM502 847h4v1h-4zM518 847h1v1h-1zM674 847h1v2h-1zM1019 847h1v2h-1zM1021 847h2v1h-2zM1039 847h1v1h-1zM1292 847h2v1h-2zM1304 847h2v1h-2zM1314 847h3v1h-3zM1383 847h1v1h-1zM1406 847h2v1h-2zM1451 847h1v2h-1zM48 848h1v3h-1zM84 848h2v1h-2zM185 848h1v2h-1zM200 848h6v1h-6zM496 848h6v1h-6zM519 848h1v1h-1zM679 848h1v2h-1zM1023 848h2v1h-2zM1038 848h1v2h-1zM1201 848h1v1h-1zM1291 848h1v1h-1zM1306 848h2v1h-2zM1310 848h4v1h-4zM1347 848h1v2h-1zM1382 848h1v1h-1zM1408 848h1v1h-1zM1436 848h1v1h-1zM60 849h9v1h-9zM82 849h2v1h-2zM176 849h1v1h-1zM520 849h1v2h-1zM673 849h1v2h-1zM1018 849h1v1h-1zM1025 849h2v1h-2zM1202 849h1v2h-1zM1290 849h1v1h-1zM1308 849h2v1h-2zM1381 849h1v1h-1zM1409 849h1v1h-1zM1435 849h1v1h-1zM1452 849h1v1h-1zM59 850h1v1h-1zM69 850h2v1h-2zM81 850h1v1h-1zM177 850h1v2h-1zM184 850h1v1h-1zM680 850h1v1h-1zM1017 850h1v2h-1zM1027 850h5v1h-5zM1037 850h1v1h-1zM1236 850h1v1h-1zM1258 850h12v1h-12zM1289 850h1v1h-1zM1348 850h1v1h-1zM1380 850h1v1h-1zM1410 850h2v1h-2zM1434 850h1v1h-1zM49 851h1v2h-1zM58 851h1v2h-1zM71 851h1v1h-1zM80 851h1v1h-1zM183 851h1v2h-1zM521 851h1v1h-1zM672 851h1v2h-1zM681 851h1v2h-1zM1032 851h5v1h-5zM1203 851h1v2h-1zM1234 851h2v1h-2zM1237 851h1v1h-1zM1254 851h4v1h-4zM1270 851h4v1h-4zM1288 851h1v1h-1zM1349 851h2v1h-2zM1378 851h2v1h-2zM1412 851h2v1h-2zM1432 851h2v1h-2zM72 852h2v1h-2zM78 852h2v1h-2zM178 852h1v2h-1zM522 852h1v1h-1zM1016 852h1v1h-1zM1218 852h4v1h-4zM1232 852h2v1h-2zM1238 852h1v1h-1zM1252 852h2v1h-2zM1274 852h4v1h-4zM1287 852h1v1h-1zM1351 852h2v1h-2zM1376 852h2v1h-2zM1414 852h2v1h-2zM1431 852h1v1h-1zM50 853h1v3h-1zM57 853h1v1h-1zM74 853h2v1h-2zM77 853h1v1h-1zM182 853h1v1h-1zM523 853h1v2h-1zM620 853h4v1h-4zM652 853h4v1h-4zM671 853h1v2h-1zM682 853h1v2h-1zM1015 853h1v2h-1zM1204 853h4v1h-4zM1214 853h4v1h-4zM1222 853h2v1h-2zM1231 853h1v1h-1zM1239 853h1v1h-1zM1251 853h1v1h-1zM1278 853h2v1h-2zM1286 853h1v1h-1zM1353 853h2v1h-2zM1375 853h1v1h-1zM1416 853h3v1h-3zM1430 853h1v1h-1zM56 854h1v1h-1zM76 854h1v1h-1zM179 854h1v2h-1zM181 854h1v2h-1zM620 854h1v1h-1zM624 854h6v1h-6zM651 854h1v1h-1zM656 854h5v1h-5zM996 854h1v1h-1zM1208 854h6v1h-6zM1224 854h3v1h-3zM1229 854h2v1h-2zM1240 854h1v2h-1zM1250 854h1v1h-1zM1280 854h3v1h-3zM1285 854h1v1h-1zM1355 854h3v1h-3zM1373 854h2v1h-2zM1419 854h5v1h-5zM1429 854h1v1h-1zM55 855h1v1h-1zM524 855h1v1h-1zM619 855h1v2h-1zM630 855h4v1h-4zM650 855h1v1h-1zM661 855h1v1h-1zM670 855h1v2h-1zM683 855h1v2h-1zM995 855h1v1h-1zM997 855h1v1h-1zM1014 855h1v1h-1zM1227 855h2v1h-2zM1248 855h2v1h-2zM1283 855h2v1h-2zM1358 855h4v1h-4zM1368 855h5v1h-5zM1424 855h5v1h-5zM51 856h1v2h-1zM54 856h1v2h-1zM180 856h1v1h-1zM525 856h2v1h-2zM634 856h3v1h-3zM649 856h1v1h-1zM662 856h2v1h-2zM994 856h1v1h-1zM998 856h1v1h-1zM1013 856h1v2h-1zM1241 856h1v1h-1zM1247 856h1v1h-1zM1362 856h6v1h-6zM527 857h1v1h-1zM618 857h1v2h-1zM637 857h2v1h-2zM648 857h1v1h-1zM664 857h1v1h-1zM669 857h1v2h-1zM684 857h1v1h-1zM993 857h1v1h-1zM999 857h1v1h-1zM1242 857h1v1h-1zM1246 857h1v1h-1zM52 858h2v1h-2zM528 858h2v1h-2zM564 858h1v1h-1zM639 858h1v1h-1zM647 858h1v1h-1zM665 858h1v1h-1zM685 858h2v1h-2zM828 858h2v1h-2zM859 858h5v1h-5zM992 858h1v2h-1zM1000 858h1v2h-1zM1012 858h1v1h-1zM1243 858h1v1h-1zM1245 858h1v1h-1zM52 859h1v1h-1zM530 859h2v1h-2zM563 859h1v1h-1zM565 859h1v2h-1zM617 859h1v3h-1zM640 859h2v1h-2zM646 859h1v1h-1zM666 859h3v1h-3zM687 859h2v1h-2zM827 859h1v2h-1zM830 859h4v1h-4zM857 859h2v1h-2zM864 859h5v1h-5zM1010 859h2v1h-2zM1244 859h1v1h-1zM532 860h2v1h-2zM546 860h3v1h-3zM562 860h1v1h-1zM642 860h2v1h-2zM645 860h1v1h-1zM668 860h1v1h-1zM689 860h2v1h-2zM834 860h12v1h-12zM855 860h2v1h-2zM869 860h1v2h-1zM991 860h1v1h-1zM1001 860h1v1h-1zM1008 860h2v1h-2zM534 861h4v1h-4zM542 861h4v1h-4zM549 861h1v1h-1zM561 861h1v1h-1zM566 861h1v2h-1zM644 861h1v1h-1zM691 861h5v1h-5zM826 861h1v1h-1zM846 861h4v1h-4zM853 861h2v1h-2zM990 861h1v1h-1zM1002 861h1v1h-1zM1007 861h1v1h-1zM538 862h4v1h-4zM550 862h1v1h-1zM560 862h1v2h-1zM616 862h1v2h-1zM696 862h5v1h-5zM825 862h1v2h-1zM850 862h3v1h-3zM870 862h1v1h-1zM989 862h1v1h-1zM1003 862h1v1h-1zM1005 862h2v1h-2zM551 863h1v1h-1zM567 863h1v1h-1zM701 863h2v1h-2zM871 863h1v1h-1zM987 863h2v1h-2zM1004 863h1v1h-1zM552 864h2v1h-2zM559 864h1v1h-1zM568 864h1v2h-1zM615 864h1v3h-1zM703 864h2v1h-2zM824 864h1v1h-1zM872 864h1v2h-1zM985 864h2v1h-2zM554 865h1v1h-1zM558 865h1v1h-1zM705 865h2v1h-2zM823 865h1v2h-1zM964 865h1v1h-1zM983 865h2v1h-2zM555 866h1v1h-1zM557 866h1v1h-1zM569 866h1v1h-1zM707 866h2v1h-2zM873 866h1v1h-1zM963 866h1v2h-1zM965 866h1v1h-1zM981 866h2v1h-2zM556 867h1v1h-1zM570 867h1v2h-1zM614 867h1v2h-1zM709 867h2v1h-2zM822 867h1v1h-1zM874 867h1v1h-1zM966 867h1v1h-1zM980 867h1v1h-1zM594 868h6v1h-6zM711 868h1v1h-1zM821 868h1v2h-1zM875 868h1v2h-1zM962 868h1v1h-1zM967 868h1v1h-1zM978 868h2v1h-2zM571 869h1v2h-1zM590 869h4v1h-4zM600 869h6v1h-6zM613 869h1v2h-1zM712 869h2v1h-2zM961 869h1v1h-1zM968 869h2v1h-2zM976 869h2v1h-2zM588 870h2v1h-2zM606 870h2v1h-2zM714 870h2v1h-2zM820 870h1v1h-1zM876 870h9v1h-9zM960 870h1v2h-1zM970 870h1v1h-1zM975 870h1v1h-1zM572 871h1v1h-1zM587 871h1v1h-1zM608 871h3v1h-3zM612 871h1v2h-1zM716 871h33v1h-33zM819 871h1v2h-1zM885 871h1v1h-1zM971 871h1v1h-1zM973 871h2v1h-2zM573 872h1v1h-1zM586 872h1v1h-1zM611 872h1v1h-1zM749 872h2v1h-2zM886 872h1v1h-1zM959 872h1v1h-1zM972 872h1v1h-1zM574 873h2v1h-2zM584 873h2v1h-2zM751 873h2v1h-2zM818 873h1v2h-1zM887 873h1v1h-1zM958 873h1v1h-1zM576 874h1v1h-1zM583 874h1v1h-1zM753 874h2v1h-2zM888 874h2v1h-2zM957 874h1v2h-1zM577 875h1v1h-1zM582 875h1v1h-1zM755 875h2v1h-2zM817 875h1v2h-1zM890 875h1v1h-1zM940 875h2v1h-2zM578 876h2v1h-2zM581 876h1v1h-1zM757 876h1v2h-1zM891 876h1v1h-1zM938 876h2v1h-2zM942 876h4v1h-4zM952 876h5v1h-5zM580 877h1v1h-1zM803 877h2v1h-2zM816 877h1v2h-1zM892 877h1v1h-1zM936 877h2v1h-2zM946 877h6v1h-6zM758 878h1v1h-1zM801 878h2v1h-2zM805 878h1v1h-1zM893 878h2v1h-2zM935 878h1v1h-1zM759 879h1v1h-1zM787 879h3v1h-3zM799 879h2v1h-2zM806 879h1v1h-1zM815 879h1v2h-1zM895 879h2v1h-2zM933 879h2v1h-2zM760 880h1v2h-1zM784 880h3v1h-3zM790 880h4v1h-4zM797 880h2v1h-2zM807 880h1v1h-1zM897 880h2v1h-2zM932 880h1v1h-1zM782 881h2v1h-2zM794 881h3v1h-3zM808 881h1v1h-1zM814 881h1v2h-1zM899 881h2v1h-2zM930 881h2v1h-2zM761 882h1v1h-1zM780 882h2v1h-2zM809 882h1v1h-1zM901 882h2v1h-2zM929 882h1v1h-1zM762 883h1v1h-1zM779 883h1v1h-1zM810 883h1v1h-1zM813 883h1v2h-1zM903 883h2v1h-2zM928 883h1v1h-1zM763 884h1v2h-1zM778 884h1v1h-1zM811 884h1v1h-1zM905 884h2v1h-2zM912 884h6v1h-6zM926 884h2v1h-2zM777 885h1v1h-1zM812 885h1v1h-1zM907 885h5v1h-5zM918 885h4v1h-4zM925 885h1v1h-1zM764 886h1v1h-1zM776 886h1v1h-1zM922 886h3v1h-3zM765 887h2v1h-2zM775 887h1v1h-1zM767 888h2v1h-2zM774 888h1v1h-1zM769 889h2v1h-2zM773 889h1v1h-1zM771 890h2v1h-2z" fill="#1e90ff" shape-rendering="crispEdges"/>
<line x1="1350.0" y1="847.3" x2="1453.0" y2="845.5" stroke="#ff0000" stroke-width="3.2" stroke-linecap="butt"/>
<polygon points="1461.5,845.3 1449.6,850.5 1452.0,845.5 1449.4,840.5" fill="#ff0000"/>
<g shape-rendering="crispEdges" fill="#000">
<rect x="0" y="21" width="1648" height="1"/>
<rect x="1647" y="21" width="1" height="902"/>
<rect x="0" y="556" width="1648" height="1"/>
<rect x="0" y="558" width="1648" height="1"/>
<rect x="0" y="777" width="1648" height="1"/>
<rect x="0" y="779" width="1648" height="1"/>
<rect x="0" y="922" width="1648" height="1"/>
<rect x="0" y="557" width="1648" height="1" fill="#fff"/>
<rect x="0" y="778" width="1648" height="1" fill="#fff"/>
</g>
<rect x="1693" y="19" width="1" height="921" fill="#e3e3e3" shape-rendering="crispEdges"/>
<polygon points="1459,22 1468.5,22 1463.7,27" fill="#c0c0c0"/>
<g fill="#000" shape-rendering="crispEdges"><rect x="249" y="103" width="1" height="1"/><rect x="248" y="104" width="1" height="1"/><rect x="250" y="104" width="1" height="1"/><rect x="249" y="105" width="1" height="1"/></g>
<rect x="1648" y="25" width="2" height="1" fill="#000" shape-rendering="crispEdges"/>
<text class="s" transform="translate(1653.00,29.00) scale(0.93,1)" font-size="10.2" fill="#000">1.37660</text>
<rect x="1648" y="58" width="2" height="1" fill="#000" shape-rendering="crispEdges"/>
<text class="s" transform="translate(1653.00,62.00) scale(0.93,1)" font-size="10.2" fill="#000">1.37400</text>
<rect x="1648" y="91" width="2" height="1" fill="#000" shape-rendering="crispEdges"/>
<text class="s" transform="translate(1653.00,95.00) scale(0.93,1)" font-size="10.2" fill="#000">1.37135</text>
<rect x="1648" y="124" width="2" height="1" fill="#000" shape-rendering="crispEdges"/>
<text class="s" transform="translate(1653.00,128.00) scale(0.93,1)" font-size="10.2" fill="#000">1.36875</text>
<rect x="1648" y="157" width="2" height="1" fill="#000" shape-rendering="crispEdges"/>
<text class="s" transform="translate(1653.00,161.00) scale(0.93,1)" font-size="10.2" fill="#000">1.36615</text>
<rect x="1648" y="190" width="2" height="1" fill="#000" shape-rendering="crispEdges"/>
<text class="s" transform="translate(1653.00,194.00) scale(0.93,1)" font-size="10.2" fill="#000">1.36355</text>
<rect x="1648" y="223" width="2" height="1" fill="#000" shape-rendering="crispEdges"/>
<text class="s" transform="translate(1653.00,227.00) scale(0.93,1)" font-size="10.2" fill="#000">1.36095</text>
<rect x="1648" y="256" width="2" height="1" fill="#000" shape-rendering="crispEdges"/>
<text class="s" transform="translate(1653.00,260.00) scale(0.93,1)" font-size="10.2" fill="#000">1.35835</text>
<rect x="1648" y="289" width="2" height="1" fill="#000" shape-rendering="crispEdges"/>
<text class="s" transform="translate(1653.00,293.00) scale(0.93,1)" font-size="10.2" fill="#000">1.35575</text>
<rect x="1648" y="388" width="2" height="1" fill="#000" shape-rendering="crispEdges"/>
<text class="s" transform="translate(1653.00,392.00) scale(0.93,1)" font-size="10.2" fill="#000">1.34790</text>
<rect x="1648" y="421" width="2" height="1" fill="#000" shape-rendering="crispEdges"/>
<text class="s" transform="translate(1653.00,425.00) scale(0.93,1)" font-size="10.2" fill="#000">1.34530</text>
<rect x="1648" y="454" width="2" height="1" fill="#000" shape-rendering="crispEdges"/>
<text class="s" transform="translate(1653.00,458.00) scale(0.93,1)" font-size="10.2" fill="#000">1.34270</text>
<rect x="1648" y="487" width="2" height="1" fill="#000" shape-rendering="crispEdges"/>
<text class="s" transform="translate(1653.00,491.00) scale(0.93,1)" font-size="10.2" fill="#000">1.34010</text>
<rect x="1648" y="520" width="2" height="1" fill="#000" shape-rendering="crispEdges"/>
<text class="s" transform="translate(1653.00,524.00) scale(0.93,1)" font-size="10.2" fill="#000">1.33750</text>
<rect x="1648" y="553" width="2" height="1" fill="#000" shape-rendering="crispEdges"/>
<text class="s" transform="translate(1653.00,557.00) scale(0.93,1)" font-size="10.2" fill="#000">1.33490</text>
<rect x="1649" y="214" width="41" height="11" fill="#ff0000" shape-rendering="crispEdges"/>
<text class="s" transform="translate(1653.50,223.00) scale(0.93,1)" font-size="10.2" fill="#fff">1.36119</text>
<rect x="1649" y="241" width="41" height="11" fill="#ff4500" shape-rendering="crispEdges"/>
<text class="s" transform="translate(1653.50,250.00) scale(0.93,1)" font-size="10.2" fill="#fff">1.35906</text>
<rect x="1649" y="269" width="41" height="11" fill="#32cd32" shape-rendering="crispEdges"/>
<text class="s" transform="translate(1653.50,278.00) scale(0.93,1)" font-size="10.2" fill="#fff">1.35685</text>
<rect x="1649" y="294" width="41" height="11" fill="#000" shape-rendering="crispEdges"/>
<text class="s" transform="translate(1653.50,303.00) scale(0.93,1)" font-size="10.2" fill="#fff">1.35487</text>
<rect x="1649" y="318" width="41" height="11" fill="#0000ff" shape-rendering="crispEdges"/>
<text class="s" transform="translate(1653.50,327.00) scale(0.93,1)" font-size="10.2" fill="#fff">1.35299</text>
<rect x="1649" y="351" width="41" height="11" fill="#0000ff" shape-rendering="crispEdges"/>
<text class="s" transform="translate(1653.50,360.00) scale(0.93,1)" font-size="10.2" fill="#fff">1.35039</text>
<text class="s" transform="translate(1651.30,569.00) scale(0.93,1)" font-size="10.2" fill="#000">0.005014</text>
<rect x="1648" y="670" width="2" height="1" fill="#000" shape-rendering="crispEdges"/>
<text class="s" transform="translate(1651.30,674.00) scale(0.93,1)" font-size="10.2" fill="#000">0.00</text>
<text class="s" transform="translate(1651.30,774.00) scale(0.93,1)" font-size="10.2" fill="#000">-0.004812</text>
<rect x="1648" y="559" width="2" height="1" fill="#000"/>
<rect x="1648" y="777" width="2" height="1" fill="#000"/>
<text class="s" transform="translate(1651.30,790.00) scale(0.93,1)" font-size="10.2" fill="#000">100</text>
<text class="s" transform="translate(1651.30,813.00) scale(0.93,1)" font-size="10.2" fill="#000">80</text>
<text class="s" transform="translate(1651.30,855.00) scale(0.93,1)" font-size="10.2" fill="#000">50</text>
<text class="s" transform="translate(1651.30,904.00) scale(0.93,1)" font-size="10.2" fill="#000">15</text>
<text class="s" transform="translate(1651.30,919.00) scale(0.93,1)" font-size="10.2" fill="#000">0</text>
<text class="s" transform="translate(-13.30,935.00) scale(0.93,1)" font-size="10.2" fill="#000">31 Dec 2021</text>
<rect x="52" y="923" width="1" height="3" fill="#000" shape-rendering="crispEdges"/>
<text class="s" transform="translate(51.00,935.00) scale(0.93,1)" font-size="10.2" fill="#000">3 Jan 12:00</text>
<rect x="116" y="923" width="1" height="3" fill="#000" shape-rendering="crispEdges"/>
<text class="s" transform="translate(115.00,935.00) scale(0.93,1)" font-size="10.2" fill="#000">4 Jan 20:00</text>
<rect x="180" y="923" width="1" height="3" fill="#000" shape-rendering="crispEdges"/>
<text class="s" transform="translate(179.00,935.00) scale(0.93,1)" font-size="10.2" fill="#000">6 Jan 04:00</text>
<rect x="244" y="923" width="1" height="3" fill="#000" shape-rendering="crispEdges"/>
<text class="s" transform="translate(243.00,935.00) scale(0.93,1)" font-size="10.2" fill="#000">7 Jan 12:00</text>
<rect x="308" y="923" width="1" height="3" fill="#000" shape-rendering="crispEdges"/>
<text class="s" transform="translate(307.00,935.00) scale(0.93,1)" font-size="10.2" fill="#000">10 Jan 20:00</text>
<rect x="372" y="923" width="1" height="3" fill="#000" shape-rendering="crispEdges"/>
<text class="s" transform="translate(371.00,935.00) scale(0.93,1)" font-size="10.2" fill="#000">12 Jan 04:00</text>
<rect x="436" y="923" width="1" height="3" fill="#000" shape-rendering="crispEdges"/>
<text class="s" transform="translate(435.00,935.00) scale(0.93,1)" font-size="10.2" fill="#000">13 Jan 12:00</text>
<rect x="500" y="923" width="1" height="3" fill="#000" shape-rendering="crispEdges"/>
<text class="s" transform="translate(499.00,935.00) scale(0.93,1)" font-size="10.2" fill="#000">16 Jan 23:00</text>
<rect x="564" y="923" width="1" height="3" fill="#000" shape-rendering="crispEdges"/>
<text class="s" transform="translate(563.00,935.00) scale(0.93,1)" font-size="10.2" fill="#000">18 Jan 04:00</text>
<rect x="628" y="923" width="1" height="3" fill="#000" shape-rendering="crispEdges"/>
<text class="s" transform="translate(627.00,935.00) scale(0.93,1)" font-size="10.2" fill="#000">19 Jan 12:00</text>
<rect x="692" y="923" width="1" height="3" fill="#000" shape-rendering="crispEdges"/>
<text class="s" transform="translate(691.00,935.00) scale(0.93,1)" font-size="10.2" fill="#000">20 Jan 20:00</text>
<rect x="756" y="923" width="1" height="3" fill="#000" shape-rendering="crispEdges"/>
<text class="s" transform="translate(755.00,935.00) scale(0.93,1)" font-size="10.2" fill="#000">24 Jan 04:00</text>
<rect x="820" y="923" width="1" height="3" fill="#000" shape-rendering="crispEdges"/>
<text class="s" transform="translate(819.00,935.00) scale(0.93,1)" font-size="10.2" fill="#000">25 Jan 12:00</text>
<rect x="884" y="923" width="1" height="3" fill="#000" shape-rendering="crispEdges"/>
<text class="s" transform="translate(883.00,935.00) scale(0.93,1)" font-size="10.2" fill="#000">26 Jan 20:00</text>
<rect x="948" y="923" width="1" height="3" fill="#000" shape-rendering="crispEdges"/>
<text class="s" transform="translate(947.00,935.00) scale(0.93,1)" font-size="10.2" fill="#000">28 Jan 04:00</text>
<rect x="1012" y="923" width="1" height="3" fill="#000" shape-rendering="crispEdges"/>
<text class="s" transform="translate(1011.00,935.00) scale(0.93,1)" font-size="10.2" fill="#000">31 Jan 12:00</text>
<rect x="1076" y="923" width="1" height="3" fill="#000" shape-rendering="crispEdges"/>
<text class="s" transform="translate(1075.00,935.00) scale(0.93,1)" font-size="10.2" fill="#000">1 Feb 20:00</text>
<rect x="1140" y="923" width="1" height="3" fill="#000" shape-rendering="crispEdges"/>
<text class="s" transform="translate(1139.00,935.00) scale(0.93,1)" font-size="10.2" fill="#000">3 Feb 04:00</text>
<rect x="1204" y="923" width="1" height="3" fill="#000" shape-rendering="crispEdges"/>
<text class="s" transform="translate(1203.00,935.00) scale(0.93,1)" font-size="10.2" fill="#000">4 Feb 12:00</text>
<rect x="1268" y="923" width="1" height="3" fill="#000" shape-rendering="crispEdges"/>
<text class="s" transform="translate(1267.00,935.00) scale(0.93,1)" font-size="10.2" fill="#000">7 Feb 20:00</text>
<rect x="1332" y="923" width="1" height="3" fill="#000" shape-rendering="crispEdges"/>
<text class="s" transform="translate(1331.00,935.00) scale(0.93,1)" font-size="10.2" fill="#000">9 Feb 04:00</text>
<rect x="1396" y="923" width="1" height="3" fill="#000" shape-rendering="crispEdges"/>
<text class="s" transform="translate(1395.00,935.00) scale(0.93,1)" font-size="10.2" fill="#000">10 Feb 12:00</text>
<text class="s" transform="translate(3.00,33.00) scale(0.93,1)" font-size="10.2" fill="#000" xml:space="preserve">GBPUSD-,H4  <tspan dx="1.2">1.36019 1.36045 1.35404 1.35487</tspan></text>
<text class="s" transform="translate(-8.00,571.00) scale(0.93,1)" font-size="10.2" fill="#000">MACD(12,26,9) 0.000634 0.000654</text>
<text class="s" transform="translate(-8.20,792.00) scale(0.93,1)" font-size="10.2" fill="#000">RSI(14) 49.4391</text>
<g shape-rendering="crispEdges">
<rect x="0" y="0" width="1695" height="16" fill="#f0f0f0"/>
<rect x="0" y="16" width="1694" height="1" fill="#f6f6f6"/>
<rect x="0" y="17" width="1694" height="1" fill="#a0a0a0"/>
<rect x="0" y="18" width="1694" height="1" fill="#696969"/>
<rect x="0" y="19" width="1693" height="2" fill="#fff"/>
<rect x="1694" y="16" width="1" height="3" fill="#f0f0f0"/>
<rect x="336" y="0" width="23" height="15" fill="#f7f7f7"/>
<rect x="488" y="0" width="24" height="15" fill="#f7f7f7"/>
<rect x="516" y="0" width="24" height="15" fill="#f7f7f7"/>
<rect x="676" y="0" width="24" height="15" fill="#f7f7f7"/>
<rect x="1122" y="0" width="24" height="15" fill="#f7f7f7"/>
<rect x="8" y="0" width="1" height="15" fill="#a0a0a0"/>
<rect x="335" y="0" width="1" height="15" fill="#a0a0a0"/>
<rect x="392" y="0" width="1" height="15" fill="#a0a0a0"/>
<rect x="482" y="0" width="1" height="15" fill="#a0a0a0"/>
<rect x="515" y="0" width="1" height="15" fill="#a0a0a0"/>
<rect x="544" y="0" width="1" height="15" fill="#a0a0a0"/>
<rect x="675" y="0" width="1" height="15" fill="#a0a0a0"/>
<rect x="732" y="0" width="1" height="15" fill="#a0a0a0"/>
<rect x="1121" y="0" width="1" height="15" fill="#a0a0a0"/>
<rect x="1232" y="0" width="1" height="15" fill="#a0a0a0"/>
<rect x="297" y="0" width="1" height="17" fill="#8c8c8c"/>
<rect x="298" y="0" width="1" height="17" fill="#fff"/>
<rect x="301" y="1" width="3" height="1" fill="#a8a8a8"/>
<rect x="301" y="3" width="3" height="1" fill="#a8a8a8"/>
<rect x="301" y="5" width="3" height="1" fill="#a8a8a8"/>
<rect x="301" y="7" width="3" height="1" fill="#a8a8a8"/>
<rect x="301" y="9" width="3" height="1" fill="#a8a8a8"/>
<rect x="301" y="11" width="3" height="1" fill="#a8a8a8"/>
<rect x="301" y="13" width="3" height="1" fill="#a8a8a8"/>
<rect x="665" y="0" width="1" height="17" fill="#8c8c8c"/>
<rect x="666" y="0" width="1" height="17" fill="#fff"/>
<rect x="669" y="1" width="3" height="1" fill="#a8a8a8"/>
<rect x="669" y="3" width="3" height="1" fill="#a8a8a8"/>
<rect x="669" y="5" width="3" height="1" fill="#a8a8a8"/>
<rect x="669" y="7" width="3" height="1" fill="#a8a8a8"/>
<rect x="669" y="9" width="3" height="1" fill="#a8a8a8"/>
<rect x="669" y="11" width="3" height="1" fill="#a8a8a8"/>
<rect x="669" y="13" width="3" height="1" fill="#a8a8a8"/>
<rect x="971" y="0" width="1" height="17" fill="#8c8c8c"/>
<rect x="972" y="0" width="1" height="17" fill="#fff"/>
<rect x="975" y="1" width="3" height="1" fill="#a8a8a8"/>
<rect x="975" y="3" width="3" height="1" fill="#a8a8a8"/>
<rect x="975" y="5" width="3" height="1" fill="#a8a8a8"/>
<rect x="975" y="7" width="3" height="1" fill="#a8a8a8"/>
<rect x="975" y="9" width="3" height="1" fill="#a8a8a8"/>
<rect x="975" y="11" width="3" height="1" fill="#a8a8a8"/>
<rect x="975" y="13" width="3" height="1" fill="#a8a8a8"/>
<rect x="487" y="0" width="1" height="14" fill="#a0a0a0"/>
<rect x="0" y="12" width="1" height="1" fill="#e0a030"/>
</g>
<path d="M18.5,-1 h9.5 l2,2 v11 h-11.5 z" fill="#fff" stroke="#707070" stroke-width="1"/>
<path d="M20.5,2.5h6M20.5,4.5h6M20.5,6.5h3" stroke="#909090" stroke-width="1"/>
<path d="M26,3.5h3.5v3.5h3.5v3.5h-3.5v3.5h-3.5v-3.5h-3.5v-3.5h3.5z" fill="#22c022" stroke="#0a8a0a" stroke-width="0.8"/>
<text x="37.5" y="8" font-size="13.2" fill="#000">New Order</text>
<defs><linearGradient id="gbk" x1="0" y1="0" x2="1" y2="1"><stop offset="0" stop-color="#c89410"/><stop offset="0.35" stop-color="#f7d648"/><stop offset="1" stop-color="#c48c0c"/></linearGradient></defs>
<path d="M114,6.9 l7.7,6 l8.3,-6.2 l0,-1.6 l-8.3,6 l-7.7,-5.6 z" fill="#a87818"/>
<path d="M118.3,-1 h6 l5.7,7.1 l-8.3,6 l-7.7,-5.6 z" fill="url(#gbk)" stroke="#b07c10" stroke-width="0.7"/>
<path d="M122.2,12.6 l7.6,-5.6" stroke="#f4e4a0" stroke-width="0.7" fill="none"/>
<rect x="144.3" y="-1" width="10.7" height="6.8" fill="#2492f2"/>
<path d="M147.6,-1 v6.5" stroke="#fff" stroke-width="0.9"/><path d="M149.5,2.2 l3.5,-0.8" stroke="#fff" stroke-width="1.1"/>
<defs><linearGradient id="gcl" x1="0" y1="0" x2="0" y2="1"><stop offset="0" stop-color="#ffffff"/><stop offset="1" stop-color="#c8d2e6"/></linearGradient></defs>
<path d="M145.2,12.5 a3.1,3.1 0 0 1 -0.4,-6.1 a3.6,3.6 0 0 1 6.6,-1.3 a3,3 0 0 1 3.6,2 a2.8,2.8 0 0 1 -0.4,5.4 z" fill="url(#gcl)" stroke="#5878b0" stroke-width="0.8"/>
<path d="M178,2.2 a2.8,2.8 0 0 0 0,5.6" fill="none" stroke="#3a6cd8" stroke-width="1.1" opacity="1"/>
<path d="M178,2.2 a2.8,2.8 0 0 1 0,5.6" fill="none" stroke="#58a860" stroke-width="1.1" opacity="1"/>
<path d="M178,-0.2 a5.2,5.2 0 0 0 0,10.4" fill="none" stroke="#3a6cd8" stroke-width="1.1" opacity="0.8"/>
<path d="M178,-0.2 a5.2,5.2 0 0 1 0,10.4" fill="none" stroke="#58a860" stroke-width="1.1" opacity="0.8"/>
<path d="M178,-2.6 a7.6,7.6 0 0 0 0,15.2" fill="none" stroke="#3a6cd8" stroke-width="1.1" opacity="0.5"/>
<path d="M178,-2.6 a7.6,7.6 0 0 1 0,15.2" fill="none" stroke="#58a860" stroke-width="1.1" opacity="0.5"/>
<path d="M178.6,5 v7.8" stroke="#18a018" stroke-width="1.3"/>
<circle cx="178" cy="4.8" r="1.7" fill="#2858c8"/>
<path d="M197.7,3.2 h15 l-5.6,9.2 h-3.4 z" fill="#f8d438" stroke="#c89a14" stroke-width="0.7"/>
<ellipse cx="205.2" cy="1.2" rx="7.8" ry="3.1" fill="#4ea6e0" stroke="#2a7cbc" stroke-width="0.7"/>
<ellipse cx="205.2" cy="0.2" rx="4.4" ry="1.4" fill="#8cc8ee"/>
<circle cx="209.3" cy="8.8" r="4" fill="#e0200c"/>
<rect x="207.8" y="7.3" width="3" height="3" fill="#fff"/>
<text x="218" y="7.8" font-size="13.2" fill="#000" textLength="71.5" lengthAdjust="spacingAndGlyphs">AutoTrading</text>
<path d="M316,0 v12 M313,10.5 h13" stroke="#505050" stroke-width="1.2" fill="none"/>
<path d="M325,8.8 l2.2,1.7 l-2.2,1.7 z" fill="#505050"/>
<path d="M321.5,0 v8.5 M321.5,1.5 h2 M319.5,8 h2" stroke="#18a018" stroke-width="1.3" fill="none"/>
<path d="M343.5,0 v12 M340.5,10.5 h13" stroke="#505050" stroke-width="1.2" fill="none"/>
<path d="M352.5,8.8 l2.2,1.7 l-2.2,1.7 z" fill="#505050"/>
<rect x="347.5" y="0" width="3.6" height="6.5" fill="#28c828" stroke="#108810" stroke-width="0.7"/><path d="M349.3,6.5v2.5" stroke="#108810" stroke-width="1"/>
<path d="M371.5,0 v12 M368.5,10.5 h13" stroke="#505050" stroke-width="1.2" fill="none"/>
<path d="M380.5,8.8 l2.2,1.7 l-2.2,1.7 z" fill="#505050"/>
<path d="M370,8 q5,-9 7,-5 l4,3" stroke="#18a018" stroke-width="1.2" fill="none"/>
<path d="M410.5,6.5 l6,5.5" stroke="#c89820" stroke-width="2.6" stroke-linecap="round"/>
<circle cx="407" cy="2.5" r="5" fill="#d8ecfc" stroke="#4080d0" stroke-width="1.3"/>
<path d="M404.5,2.5 h5" stroke="#3070c0" stroke-width="1.4"/>
<path d="M407,0 v5" stroke="#3070c0" stroke-width="1.4"/>
<path d="M438.5,6.5 l6,5.5" stroke="#c89820" stroke-width="2.6" stroke-linecap="round"/>
<circle cx="435" cy="2.5" r="5" fill="#d8ecfc" stroke="#4080d0" stroke-width="1.3"/>
<path d="M432.5,2.5 h5" stroke="#3070c0" stroke-width="1.4"/>
<rect x="457.5" y="-2" width="7" height="6.5" fill="#48b048" stroke="#308030" stroke-width="0.6"/>
<rect x="465.5" y="-2" width="7" height="6.5" fill="#3868d0" stroke="#2048a0" stroke-width="0.6"/>
<rect x="457.5" y="5.5" width="7" height="7" fill="#3868d0" stroke="#2048a0" stroke-width="0.6"/>
<rect x="465.5" y="5.5" width="7" height="7" fill="#48b048" stroke="#308030" stroke-width="0.6"/>
<path d="M459,2h4.2M467,2h4.2M459,9.5h4.2M467,9.5h4.2" stroke="#fff" stroke-width="1.6"/>
<path d="M495,0 v12 M492,10.5 h13" stroke="#505050" stroke-width="1.2" fill="none"/>
<path d="M504,8.8 l2.2,1.7 l-2.2,1.7 z" fill="#505050"/>
<path d="M500.5,1.5 v6 l4,-3 z" fill="#38c838" stroke="#108810" stroke-width="0.7"/>
<path d="M523.5,0 v12 M520.5,10.5 h13" stroke="#505050" stroke-width="1.2" fill="none"/>
<path d="M532.5,8.8 l2.2,1.7 l-2.2,1.7 z" fill="#505050"/>
<path d="M529.5,0 v9" stroke="#2868c0" stroke-width="1.2"/><path d="M530.5,4.5 h4 M530.5,4.5 l2.5,-2 M530.5,4.5 l2.5,2" stroke="#d84010" stroke-width="1.1" fill="none"/>
<path d="M554.5,-1 h7.5 l2,2 v8.5 h-9.5 z" fill="#fff" stroke="#707070" stroke-width="1"/>
<path d="M556,3.5h2.5" stroke="#707070" stroke-width="1"/>
<path d="M561.5,3.2h4v4h4v4h-4v4h-4v-4h-4v-4h4z" fill="#22c022" stroke="#0a8a0a" stroke-width="0.8"/>
<path d="M575.5,4.3 h5.4 l-2.7,2.8 z" fill="#000"/>
<circle cx="600" cy="4.5" r="7" fill="#fff" stroke="#1a58c0" stroke-width="2.2"/>
<path d="M600,0.5 v4.5 h3" stroke="#404040" stroke-width="1" fill="none"/>
<path d="M615,4.3 h5.4 l-2.7,2.8 z" fill="#000"/>
<rect x="631.5" y="-1" width="15" height="12.5" fill="#fff" stroke="#3070c8" stroke-width="1.3"/>
<path d="M631.5,5 h15" stroke="#3070c8" stroke-width="1"/>
<path d="M634,3.5 l3,-1 l3,0.5 l4,-1.5" stroke="#c03010" stroke-width="1.1" fill="none"/>
<path d="M634,9.5 l3,-1.5 l2.5,1 l2,-2 l2.5,2" stroke="#18a018" stroke-width="1.1" fill="none"/>
<path d="M654,4.3 h5.4 l-2.7,2.8 z" fill="#000"/>
<path d="M683,-1 l0,11 l2.6,-2.3 l2,4 l1.8,-0.9 l-2,-3.9 l3.4,-0.4 z" fill="#484848"/>
<path d="M715.5,-1 v5 M715.5,7 v6 M708,5.5 h6 M717,5.5 h6" stroke="#505050" stroke-width="1"/>
<path d="M749.5,0 v12" stroke="#505050" stroke-width="1"/>
<path d="M772,5.5 h12" stroke="#505050" stroke-width="1"/>
<path d="M800,12 L812.5,0" stroke="#505050" stroke-width="1.1"/>
<path d="M825.8,6.9 L837.6,-0.9 M826.9,9.4 L839.4,1.1 M828.2,11.8 L840.2,3.8" stroke="#4a4a4a" stroke-width="1" fill="none"/>
<path d="M829.3,2.8 l2.2,8 M832.8,0.6 l2.2,8 M836.2,-1.2 l2,7" stroke="#4a4a4a" stroke-width="0.9" fill="none"/>
<path d="M837.4,9.6 v4.1 M836.9,10.1 h4.3 M837.4,11.65 h3.3 M836.9,13.2 h4.3" stroke="#303030" stroke-width="1.05" fill="none"/>
<path d="M855,1.5 h13 M855,5.5 h13 M855,9.5 h10" stroke="#606060" stroke-width="1" stroke-dasharray="1,1"/>
<path d="M865.3,9.4 v4.3 M864.8,9.9 h4 M865.3,11.6 h3" stroke="#303030" stroke-width="1.05" fill="none"/>
<text x="885.5" y="9.8" font-size="11.5" font-weight="bold" fill="#606060">A</text>
<path d="M912.5,1.5 h11 M912.5,11.5 h11 M912.5,1.5 v10 M923.5,1.5 v10" fill="none" stroke="#707070" stroke-width="1" stroke-dasharray="1,1" shape-rendering="crispEdges"/>
<text x="914.3" y="10" font-size="10.5" font-weight="bold" fill="#606060">T</text>
<path d="M939.6,1.8 l3,-2.8 l3,2.8 l-3,1.9 z" fill="#404040"/>
<path d="M946.2,9.3 l3.5,-2.3 l3.5,2.3 l-3.5,2.8 z" fill="#404040"/>
<path d="M941.6,6.4 l2.3,2 l4,-5" stroke="#404040" stroke-width="1.4" fill="none"/>
<path d="M960,4.3 h5.4 l-2.7,2.8 z" fill="#000"/>
<text x="986.7" y="8.9" font-size="9.2" fill="#4a4a4a">M1</text>
<text x="1014" y="8.9" font-size="9.2" fill="#4a4a4a">M5</text>
<text x="1040.4" y="8.9" font-size="9.2" fill="#4a4a4a">M15</text>
<text x="1068.5" y="8.9" font-size="9.2" fill="#4a4a4a">M30</text>
<text x="1099.6" y="8.9" font-size="9.2" fill="#4a4a4a">H1</text>
<text x="1126.3" y="8.9" font-size="9.2" fill="#4a4a4a">H4</text>
<text x="1155.6" y="8.9" font-size="9.2" fill="#4a4a4a">D1</text>
<text x="1183" y="8.9" font-size="9.2" fill="#4a4a4a">W1</text>
<text x="1209.5" y="8.9" font-size="9.2" fill="#4a4a4a">MN</text>
<path d="M1647,5 l-5,5" stroke="#2858c8" stroke-width="2.2" stroke-linecap="round"/>
<circle cx="1649.8" cy="2.2" r="3.6" fill="#f0f0f0" stroke="#2858c8" stroke-width="1.2"/>
<path d="M1667,6 a5.5,4.5 0 0 1 11,0 a5.5,4.5 0 0 1 -6,4.5 l-2.5,2.8 v-3 a5.5,4.5 0 0 1 -2.5,-4.3 z" fill="#e4e6ec" stroke="#b8bcc8" stroke-width="0.8"/>
<circle cx="1680.5" cy="2.8" r="8.2" fill="#e03820"/>
<text x="1676.5" y="7" font-size="14" fill="#fff" style="font-family:'Liberation Serif',serif">1</text>
<defs>
<linearGradient id="gt" x1="0" y1="0" x2="0" y2="1"><stop offset="0" stop-color="#f85050"/><stop offset="1" stop-color="#e03838"/></linearGradient>
<linearGradient id="gp" x1="0" y1="0" x2="0" y2="1"><stop offset="0" stop-color="#dc3030"/><stop offset="1" stop-color="#b40000"/></linearGradient>
<linearGradient id="gb" x1="0" y1="0" x2="0" y2="1"><stop offset="0" stop-color="#f4f4f6"/><stop offset="0.5" stop-color="#dcdce0"/><stop offset="1" stop-color="#c8c8cc"/></linearGradient>
</defs>
<g shape-rendering="crispEdges">
<rect x="0" y="41" width="210" height="57" fill="#fff"/>
<rect x="0" y="41" width="43" height="25" fill="url(#gt)"/>
<rect x="158" y="41" width="52" height="25" fill="url(#gt)"/>
<rect x="0" y="41" width="43" height="1" fill="#c81818"/><rect x="42" y="41" width="1" height="24" fill="#c81818"/>
<rect x="158" y="41" width="52" height="1" fill="#c81818"/><rect x="158" y="41" width="1" height="24" fill="#c81818"/><rect x="209" y="41" width="1" height="57" fill="#c01010"/>
<rect x="0" y="65" width="100" height="33" fill="url(#gp)"/>
<rect x="102" y="65" width="108" height="33" fill="url(#gp)"/>
<rect x="0" y="64" width="39" height="1" fill="#c01818"/><rect x="0" y="65" width="39" height="1" fill="#f08080"/>
<rect x="162" y="64" width="44" height="1" fill="#c01818"/><rect x="162" y="65" width="44" height="1" fill="#f08080"/>
<rect x="0" y="97" width="100" height="1" fill="#a00000"/><rect x="102" y="97" width="108" height="1" fill="#a00000"/>
<rect x="99" y="65" width="1" height="33" fill="#b00808"/><rect x="102" y="65" width="1" height="33" fill="#c02020"/>
<rect x="45" y="41" width="111" height="22" fill="#fff" stroke="#a8aab8" stroke-width="1" transform="translate(0.5,0.5)"/>
<rect x="47" y="43" width="19" height="19" fill="url(#gb)"/>
<rect x="135" y="43" width="20" height="19" fill="url(#gb)"/>
<rect x="66" y="42" width="1" height="21" fill="#b0b2c0"/><rect x="134" y="42" width="1" height="21" fill="#b0b2c0"/>
</g>
<path d="M52.8,50.3 h5.4 l-2.7,2.9 z" fill="#4858b8"/>
<path d="M141.3,53.2 h5.4 l-2.7,-2.9 z" fill="#4858b8"/>
<text x="3.2" y="57" font-size="12.3" fill="#fff" textLength="25.3" lengthAdjust="spacingAndGlyphs">SELL</text>
<text x="171.2" y="57" font-size="12.3" fill="#fff" textLength="22.8" lengthAdjust="spacingAndGlyphs">BUY</text>
<text x="107.8" y="57" font-size="12.3" fill="#000" textLength="22.8" lengthAdjust="spacingAndGlyphs">1.00</text>
<text x="11.4" y="92.5" font-size="11.5" font-weight="bold" fill="#fff">1.35</text>
<text x="37" y="92.5" font-size="32.5" fill="#fff">48</text>
<text x="78" y="77" font-size="12" font-weight="bold" fill="#fff">7</text>
<text x="121.5" y="92.5" font-size="11.5" font-weight="bold" fill="#fff">1.35</text>
<text x="149.5" y="92.5" font-size="32.5" fill="#fff">51</text>
<text x="188.5" y="77" font-size="12" font-weight="bold" fill="#fff">1</text>
</svg></body></html>
